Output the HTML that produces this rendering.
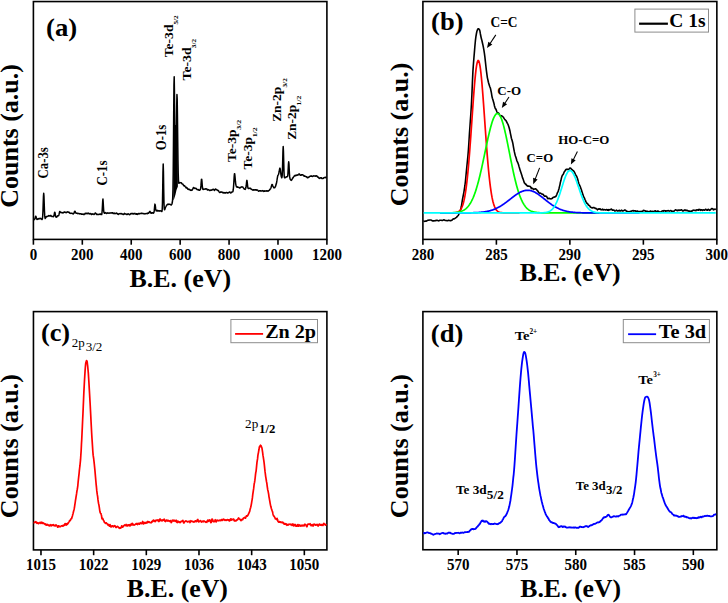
<!DOCTYPE html>
<html><head><meta charset="utf-8"><title>XPS spectra</title>
<style>html,body{margin:0;padding:0;background:#fff;overflow:hidden;}svg{display:block;font-family:"Liberation Serif",serif;}</style>
</head><body>
<svg width='728' height='603' viewBox='0 0 728 603'><rect x='0' y='0' width='728' height='603' fill='#fff'/>
<rect x='33.4' y='1.55' width='293.5' height='237.85' fill='none' stroke='#000' stroke-width='1.6'/>
<line x1='33.4' y1='239.4' x2='33.4' y2='244.7' stroke='#000' stroke-width='1.6'/>
<text transform='translate(29.65 259.74) scale(0.9552 1)' font-family='Liberation Serif' font-weight='bold' font-size='15.70' fill='#000'>0</text>
<line x1='82.3167' y1='239.4' x2='82.3167' y2='244.7' stroke='#000' stroke-width='1.6'/>
<text transform='translate(71.07 259.74) scale(0.9552 1)' font-family='Liberation Serif' font-weight='bold' font-size='15.70' fill='#000'>200</text>
<line x1='131.233' y1='239.4' x2='131.233' y2='244.7' stroke='#000' stroke-width='1.6'/>
<text transform='translate(119.98 259.74) scale(0.9552 1)' font-family='Liberation Serif' font-weight='bold' font-size='15.70' fill='#000'>400</text>
<line x1='180.15' y1='239.4' x2='180.15' y2='244.7' stroke='#000' stroke-width='1.6'/>
<text transform='translate(168.90 259.74) scale(0.9552 1)' font-family='Liberation Serif' font-weight='bold' font-size='15.70' fill='#000'>600</text>
<line x1='229.067' y1='239.4' x2='229.067' y2='244.7' stroke='#000' stroke-width='1.6'/>
<text transform='translate(217.82 259.74) scale(0.9552 1)' font-family='Liberation Serif' font-weight='bold' font-size='15.70' fill='#000'>800</text>
<line x1='277.983' y1='239.4' x2='277.983' y2='244.7' stroke='#000' stroke-width='1.6'/>
<text transform='translate(262.98 259.74) scale(0.9552 1)' font-family='Liberation Serif' font-weight='bold' font-size='15.70' fill='#000'>1000</text>
<line x1='326.9' y1='239.4' x2='326.9' y2='244.7' stroke='#000' stroke-width='1.6'/>
<text transform='translate(311.90 259.74) scale(0.9552 1)' font-family='Liberation Serif' font-weight='bold' font-size='15.70' fill='#000'>1200</text>
<polyline points='33.70,219.91 33.95,219.68 34.20,219.53 34.45,219.57 34.70,219.19 34.95,218.39 35.20,217.61 35.45,216.74 35.70,216.17 35.95,216.48 36.20,217.49 36.45,218.53 36.70,219.04 36.95,219.39 37.20,219.43 37.45,219.26 37.70,218.80 37.95,218.88 38.20,218.63 38.45,218.84 38.70,218.94 38.95,219.07 39.20,218.60 39.45,218.63 39.70,218.52 39.95,218.50 40.20,218.31 40.45,218.67 40.70,218.67 40.95,218.62 41.20,218.85 41.45,219.05 41.70,219.19 41.95,219.50 42.20,219.36 42.45,218.34 42.70,216.09 42.95,211.13 43.20,203.37 43.45,196.19 43.70,193.26 43.95,195.98 44.20,203.23 44.45,210.71 44.70,215.41 44.95,217.62 45.20,218.48 45.45,218.04 45.70,217.71 45.95,217.50 46.20,216.77 46.45,216.45 46.70,216.47 46.95,216.49 47.20,216.57 47.45,216.44 47.70,216.31 47.95,216.21 48.20,216.09 48.45,215.64 48.70,215.63 48.95,215.55 49.20,215.76 49.45,215.91 49.70,215.90 49.95,215.88 50.20,216.04 50.45,215.62 50.70,215.41 50.95,215.65 51.20,216.03 51.45,216.09 51.70,216.41 51.95,216.48 52.20,216.51 52.45,216.60 52.70,216.48 52.95,216.52 53.20,216.66 53.45,216.68 53.70,216.26 53.95,215.66 54.20,214.62 54.45,213.03 54.70,212.18 54.95,212.48 55.20,213.94 55.45,215.55 55.70,216.58 55.95,217.03 56.20,217.07 56.45,217.20 56.70,216.88 56.95,216.94 57.20,216.44 57.45,216.03 57.70,215.78 57.95,215.71 58.20,215.50 58.45,215.83 58.70,215.53 58.95,214.68 59.20,213.65 59.45,212.52 59.70,211.42 59.95,211.40 60.20,211.88 60.45,212.33 60.70,212.45 60.95,212.63 61.20,212.72 61.45,212.47 61.70,212.45 61.95,212.49 62.20,212.67 62.45,212.70 62.70,212.89 62.95,212.77 63.20,212.89 63.45,212.41 63.70,212.19 63.95,212.22 64.20,211.95 64.45,212.08 64.70,212.09 64.95,212.36 65.20,212.15 65.45,212.58 65.70,212.44 65.95,212.42 66.20,212.42 66.45,212.63 66.70,212.31 66.95,212.05 67.20,212.16 67.45,211.82 67.70,211.90 67.95,212.02 68.20,212.24 68.45,212.27 68.70,212.42 68.95,212.15 69.20,212.56 69.45,212.67 69.70,213.07 69.95,213.28 70.20,213.45 70.45,213.27 70.70,213.28 70.95,213.21 71.20,213.22 71.45,213.35 71.70,213.25 71.95,213.26 72.20,213.56 72.45,213.55 72.70,213.44 72.95,213.71 73.20,214.05 73.45,213.52 73.70,213.49 73.95,213.30 74.20,212.48 74.45,211.71 74.70,211.34 74.95,211.20 75.20,211.51 75.45,212.47 75.70,212.83 75.95,213.16 76.20,213.13 76.45,213.10 76.70,213.24 76.95,213.24 77.20,213.31 77.45,213.48 77.70,213.61 77.95,213.33 78.20,213.51 78.45,213.43 78.70,213.42 78.95,213.51 79.20,213.79 79.45,213.81 79.70,213.93 79.95,213.89 80.20,213.68 80.45,213.66 80.70,213.72 80.95,213.66 81.20,213.85 81.45,214.21 81.70,214.20 81.95,214.21 82.20,214.17 82.45,214.34 82.70,214.03 82.95,214.05 83.20,213.99 83.45,214.21 83.70,214.27 83.95,214.71 84.20,214.40 84.45,214.07 84.70,214.07 84.95,213.62 85.20,213.39 85.45,213.71 85.70,213.72 85.95,213.27 86.20,213.47 86.45,213.49 86.70,213.33 86.95,213.60 87.20,213.80 87.45,213.53 87.70,213.50 87.95,213.39 88.20,213.13 88.45,213.36 88.70,213.59 88.95,213.69 89.20,213.69 89.45,213.86 89.70,213.63 89.95,213.51 90.20,213.48 90.45,213.53 90.70,213.70 90.95,213.92 91.20,214.39 91.45,214.16 91.70,214.44 91.95,214.38 92.20,214.34 92.45,213.81 92.70,213.98 92.95,213.97 93.20,213.99 93.45,214.02 93.70,214.21 93.95,214.48 94.20,214.37 94.45,214.05 94.70,213.94 94.95,213.69 95.20,213.01 95.45,212.93 95.70,213.49 95.95,213.61 96.20,213.74 96.45,214.10 96.70,214.36 96.95,214.18 97.20,214.18 97.45,214.35 97.70,214.50 97.95,214.45 98.20,214.51 98.45,214.53 98.70,214.37 98.95,214.44 99.20,214.21 99.45,214.29 99.70,214.05 99.95,214.18 100.20,214.10 100.45,213.99 100.70,214.08 100.95,214.50 101.20,214.44 101.45,214.52 101.70,214.58 101.95,213.03 102.20,210.36 102.45,205.87 102.70,200.93 102.95,199.10 103.20,202.36 103.45,207.06 103.70,210.78 103.95,212.35 104.20,212.90 104.45,213.24 104.70,213.19 104.95,212.95 105.20,212.61 105.45,212.86 105.70,212.78 105.95,213.02 106.20,213.19 106.45,213.50 106.70,213.30 106.95,213.11 107.20,212.95 107.45,212.86 107.70,213.09 107.95,213.16 108.20,213.20 108.45,213.15 108.70,213.06 108.95,213.09 109.20,213.09 109.45,213.12 109.70,213.17 109.95,213.11 110.20,212.86 110.45,212.93 110.70,212.88 110.95,212.91 111.20,213.07 111.45,213.12 111.70,212.75 111.95,212.80 112.20,212.72 112.45,212.91 112.70,212.80 112.95,213.16 113.20,213.46 113.45,213.57 113.70,213.36 113.95,213.54 114.20,213.47 114.45,213.10 114.70,213.24 114.95,213.67 115.20,213.62 115.45,213.61 115.70,213.62 115.95,213.62 116.20,213.12 116.45,213.01 116.70,213.26 116.95,213.30 117.20,213.43 117.45,213.88 117.70,214.11 117.95,214.01 118.20,214.48 118.45,214.29 118.70,213.97 118.95,213.73 119.20,213.67 119.45,213.61 119.70,213.80 119.95,213.76 120.20,213.86 120.45,213.79 120.70,213.62 120.95,213.45 121.20,213.65 121.45,213.85 121.70,213.90 121.95,213.87 122.20,213.95 122.45,213.93 122.70,213.98 122.95,214.35 123.20,214.47 123.45,214.47 123.70,214.24 123.95,214.25 124.20,213.67 124.45,213.38 124.70,213.53 124.95,213.93 125.20,213.86 125.45,213.92 125.70,214.10 125.95,213.88 126.20,213.88 126.45,214.28 126.70,214.59 126.95,214.54 127.20,214.47 127.45,214.37 127.70,213.99 127.95,213.78 128.20,213.91 128.45,213.91 128.70,214.08 128.95,214.25 129.20,214.58 129.45,214.45 129.70,214.68 129.95,214.45 130.20,214.19 130.45,213.93 130.70,213.76 130.95,213.42 131.20,213.53 131.45,213.53 131.70,213.58 131.95,213.92 132.20,213.85 132.45,213.58 132.70,213.63 132.95,213.65 133.20,213.43 133.45,213.87 133.70,214.02 133.95,213.81 134.20,213.60 134.45,213.78 134.70,213.70 134.95,213.36 135.20,213.77 135.45,214.01 135.70,214.09 135.95,213.96 136.20,214.21 136.45,213.82 136.70,214.13 136.95,213.89 137.20,214.20 137.45,214.14 137.70,214.34 137.95,213.68 138.20,213.65 138.45,213.56 138.70,213.46 138.95,213.60 139.20,213.92 139.45,213.82 139.70,213.58 139.95,213.71 140.20,213.53 140.45,213.39 140.70,213.43 140.95,213.45 141.20,213.36 141.45,213.17 141.70,213.24 141.95,213.50 142.20,213.31 142.45,213.46 142.70,213.56 142.95,213.41 143.20,213.40 143.45,213.55 143.70,213.78 143.95,213.75 144.20,213.96 144.45,213.78 144.70,213.74 144.95,213.59 145.20,213.68 145.45,213.70 145.70,213.72 145.95,213.66 146.20,213.54 146.45,213.57 146.70,213.62 146.95,213.47 147.20,213.63 147.45,213.36 147.70,213.45 147.95,213.12 148.20,212.96 148.45,212.91 148.70,213.25 148.95,212.66 149.20,212.25 149.45,211.93 149.70,211.44 149.95,211.35 150.20,211.82 150.45,212.33 150.70,212.90 150.95,213.14 151.20,213.21 151.45,213.18 151.70,213.08 151.95,212.66 152.20,213.01 152.45,212.81 152.70,212.91 152.95,213.00 153.20,213.20 153.45,212.79 153.70,212.94 153.95,212.27 154.20,210.89 154.45,208.63 154.70,205.88 154.95,204.13 155.20,204.87 155.45,206.93 155.70,208.93 155.95,210.30 156.20,210.85 156.45,210.36 156.70,210.58 156.95,210.63 157.20,210.86 157.45,210.48 157.70,210.89 157.95,210.59 158.20,210.63 158.45,210.70 158.70,211.02 158.95,211.03 159.20,211.15 159.45,211.03 159.70,210.78 159.95,210.67 160.20,210.74 160.45,210.87 160.70,211.01 160.95,211.07 161.20,211.08 161.45,211.29 161.70,211.55 161.95,211.37 162.20,209.53 162.45,203.48 162.70,189.79 162.95,172.29 163.20,163.95 163.45,172.10 163.70,189.10 163.95,202.33 164.20,208.28 164.45,209.70 164.70,209.66 164.95,208.93 165.20,208.32 165.45,207.55 165.70,206.98 165.95,206.51 166.20,205.93 166.45,205.60 166.70,205.24 166.95,204.91 167.20,204.68 167.45,204.40 167.70,204.25 167.95,204.35 168.20,204.31 168.45,204.20 168.70,204.41 168.95,204.22 169.20,204.16 169.45,204.14 169.70,204.28 169.95,204.23 170.20,204.50 170.45,204.64 170.70,204.78 170.95,204.75 171.20,205.05 171.45,204.69 171.70,204.39 171.95,203.84 172.20,203.05 172.45,201.44 172.70,198.08 172.95,189.77 173.20,173.11 173.45,145.75 173.70,112.14 173.95,84.52 174.20,76.75 174.45,92.55 174.70,123.01 174.95,153.63 175.20,174.59 175.45,183.68 175.70,182.01 175.95,170.80 176.20,151.99 176.45,128.21 176.70,106.06 176.95,94.60 177.20,99.17 177.45,116.14 177.70,138.90 177.95,159.34 178.20,173.12 178.45,179.96 178.70,182.80 178.95,183.31 179.20,182.94 179.45,182.66 179.70,182.63 179.95,182.58 180.20,182.85 180.45,182.76 180.70,182.64 180.95,182.66 181.20,182.75 181.45,182.94 181.70,183.41 181.95,183.71 182.20,183.95 182.45,184.02 182.70,183.94 182.95,184.34 183.20,184.75 183.45,185.11 183.70,185.34 183.95,185.85 184.20,185.92 184.45,186.01 184.70,185.82 184.95,186.22 185.20,186.59 185.45,186.91 185.70,187.11 185.95,187.61 186.20,187.92 186.45,187.49 186.70,187.54 186.95,187.84 187.20,188.07 187.45,188.33 187.70,189.06 187.95,189.24 188.20,189.31 188.45,189.43 188.70,189.18 188.95,189.11 189.20,189.31 189.45,189.70 189.70,189.68 189.95,189.90 190.20,190.07 190.45,190.26 190.70,190.06 190.95,190.42 191.20,190.35 191.45,190.34 191.70,190.11 191.95,190.16 192.20,189.88 192.45,189.48 192.70,189.00 192.95,188.71 193.20,188.15 193.45,187.49 193.70,187.74 193.95,187.95 194.20,187.99 194.45,188.05 194.70,188.49 194.95,188.34 195.20,188.49 195.45,188.34 195.70,188.35 195.95,188.31 196.20,188.45 196.45,188.71 196.70,189.25 196.95,189.51 197.20,189.60 197.45,189.65 197.70,189.67 197.95,189.50 198.20,189.54 198.45,189.68 198.70,190.05 198.95,190.18 199.20,190.26 199.45,190.33 199.70,190.36 199.95,189.97 200.20,189.43 200.45,189.14 200.70,188.20 200.95,185.66 201.20,182.21 201.45,179.42 201.70,179.21 201.95,181.38 202.20,184.77 202.45,187.49 202.70,188.99 202.95,189.23 203.20,189.52 203.45,189.41 203.70,189.32 203.95,189.04 204.20,189.24 204.45,189.13 204.70,189.11 204.95,189.07 205.20,189.15 205.45,189.04 205.70,188.75 205.95,188.67 206.20,188.64 206.45,189.05 206.70,189.08 206.95,189.31 207.20,189.61 207.45,190.04 207.70,189.66 207.95,189.53 208.20,189.82 208.45,189.87 208.70,189.75 208.95,189.81 209.20,190.26 209.45,190.43 209.70,190.53 209.95,190.62 210.20,190.44 210.45,190.29 210.70,190.03 210.95,190.03 211.20,190.02 211.45,190.28 211.70,189.89 211.95,189.96 212.20,189.75 212.45,189.56 212.70,189.48 212.95,189.66 213.20,189.20 213.45,189.47 213.70,189.53 213.95,189.77 214.20,190.10 214.45,190.45 214.70,189.96 214.95,189.77 215.20,189.40 215.45,189.04 215.70,189.10 215.95,189.13 216.20,189.41 216.45,189.47 216.70,189.71 216.95,189.81 217.20,190.21 217.45,190.28 217.70,190.57 217.95,190.57 218.20,190.45 218.45,190.63 218.70,191.04 218.95,191.55 219.20,191.94 219.45,192.40 219.70,192.38 219.95,192.40 220.20,192.16 220.45,192.02 220.70,191.95 220.95,192.15 221.20,191.93 221.45,192.00 221.70,191.91 221.95,191.96 222.20,192.36 222.45,192.47 222.70,192.50 222.95,192.79 223.20,192.99 223.45,192.49 223.70,192.49 223.95,192.70 224.20,192.68 224.45,192.61 224.70,193.05 224.95,193.00 225.20,192.89 225.45,192.79 225.70,193.02 225.95,192.48 226.20,192.50 226.45,192.42 226.70,192.61 226.95,192.49 227.20,193.02 227.45,192.88 227.70,193.09 227.95,192.94 228.20,192.74 228.45,192.60 228.70,192.71 228.95,192.26 229.20,192.25 229.45,192.12 229.70,191.93 229.95,192.14 230.20,192.51 230.45,192.82 230.70,193.02 230.95,192.88 231.20,192.70 231.45,192.48 231.70,191.99 231.95,192.03 232.20,192.08 232.45,191.75 232.70,191.76 232.95,191.37 233.20,190.01 233.45,187.74 233.70,184.68 233.95,180.22 234.20,176.29 234.45,173.79 234.70,173.82 234.95,175.97 235.20,178.93 235.45,181.71 235.70,183.82 235.95,185.21 236.20,185.76 236.45,186.70 236.70,186.97 236.95,187.01 237.20,186.88 237.45,187.20 237.70,187.05 237.95,187.02 238.20,187.27 238.45,187.44 238.70,187.56 238.95,187.44 239.20,187.51 239.45,187.61 239.70,188.08 239.95,187.79 240.20,187.79 240.45,187.62 240.70,187.55 240.95,186.93 241.20,186.99 241.45,187.04 241.70,187.01 241.95,186.77 242.20,186.99 242.45,186.90 242.70,186.88 242.95,187.20 243.20,187.63 243.45,187.92 243.70,188.22 243.95,188.59 244.20,188.96 244.45,189.16 244.70,189.24 244.95,189.36 245.20,189.38 245.45,188.91 245.70,188.23 245.95,187.30 246.20,186.01 246.45,183.33 246.70,181.06 246.95,180.37 247.20,182.16 247.45,184.45 247.70,186.54 247.95,187.85 248.20,188.43 248.45,188.29 248.70,188.39 248.95,188.50 249.20,188.36 249.45,188.24 249.70,188.14 249.95,188.22 250.20,188.28 250.45,188.22 250.70,188.60 250.95,189.02 251.20,189.27 251.45,189.17 251.70,189.37 251.95,189.57 252.20,189.73 252.45,189.72 252.70,189.99 252.95,190.21 253.20,189.80 253.45,189.73 253.70,189.83 253.95,189.98 254.20,189.68 254.45,189.92 254.70,189.94 254.95,189.93 255.20,189.83 255.45,189.76 255.70,189.75 255.95,189.96 256.20,189.83 256.45,189.85 256.70,190.16 256.95,190.03 257.20,189.95 257.45,189.97 257.70,190.22 257.95,190.51 258.20,191.03 258.45,191.00 258.70,191.31 258.95,191.19 259.20,190.88 259.45,190.83 259.70,190.70 259.95,190.78 260.20,190.79 260.45,191.02 260.70,190.84 260.95,190.98 261.20,190.89 261.45,191.04 261.70,190.85 261.95,190.93 262.20,190.98 262.45,190.63 262.70,190.69 262.95,190.83 263.20,190.81 263.45,190.93 263.70,191.46 263.95,191.27 264.20,191.07 264.45,191.04 264.70,191.23 264.95,190.86 265.20,191.12 265.45,191.12 265.70,190.97 265.95,190.96 266.20,191.14 266.45,190.73 266.70,190.74 266.95,191.02 267.20,190.97 267.45,190.87 267.70,191.09 267.95,191.20 268.20,190.89 268.45,190.69 268.70,190.68 268.95,190.46 269.20,190.19 269.45,190.15 269.70,189.83 269.95,189.40 270.20,189.02 270.45,188.83 270.70,188.33 270.95,187.79 271.20,187.13 271.45,186.17 271.70,185.30 271.95,184.50 272.20,184.46 272.45,184.72 272.70,185.68 272.95,186.31 273.20,186.75 273.45,187.04 273.70,187.65 273.95,187.71 274.20,187.54 274.45,187.69 274.70,187.67 274.95,187.37 275.20,186.90 275.45,186.57 275.70,185.70 275.95,185.07 276.20,184.05 276.45,183.31 276.70,181.78 276.95,180.40 277.20,178.74 277.45,177.31 277.70,175.95 277.95,175.23 278.20,174.99 278.45,174.45 278.70,173.87 278.95,172.71 279.20,171.50 279.45,169.86 279.70,168.54 279.95,168.09 280.20,168.99 280.45,170.42 280.70,172.52 280.95,174.62 281.20,176.23 281.45,177.02 281.70,177.70 281.95,177.38 282.20,175.55 282.45,170.20 282.70,161.22 282.95,151.06 283.20,146.49 283.45,151.19 283.70,161.32 283.95,170.61 284.20,175.82 284.45,177.72 284.70,177.82 284.95,177.87 285.20,177.56 285.45,177.38 285.70,177.40 285.95,177.16 286.20,177.05 286.45,176.70 286.70,176.75 286.95,176.67 287.20,176.79 287.45,176.54 287.70,176.00 287.95,173.29 288.20,168.87 288.45,164.14 288.70,161.76 288.95,163.74 289.20,169.11 289.45,173.80 289.70,176.88 289.95,178.34 290.20,179.21 290.45,179.32 290.70,179.77 290.95,179.93 291.20,180.44 291.45,180.26 291.70,180.03 291.95,179.49 292.20,179.04 292.45,178.27 292.70,177.95 292.95,177.58 293.20,177.74 293.45,177.06 293.70,176.79 293.95,176.55 294.20,176.26 294.45,175.65 294.70,175.73 294.95,175.41 295.20,175.18 295.45,175.54 295.70,175.76 295.95,175.56 296.20,175.58 296.45,175.45 296.70,175.17 296.95,174.82 297.20,174.84 297.45,175.08 297.70,175.24 297.95,174.99 298.20,174.90 298.45,174.73 298.70,174.44 298.95,173.92 299.20,174.06 299.45,174.10 299.70,174.39 299.95,174.77 300.20,175.29 300.45,174.98 300.70,175.21 300.95,175.33 301.20,174.96 301.45,174.69 301.70,174.95 301.95,174.66 302.20,174.83 302.45,174.69 302.70,174.80 302.95,174.90 303.20,175.25 303.45,175.17 303.70,175.70 303.95,175.94 304.20,176.25 304.45,176.05 304.70,176.13 304.95,176.08 305.20,176.24 305.45,176.20 305.70,176.50 305.95,176.48 306.20,176.80 306.45,176.89 306.70,176.80 306.95,177.29 307.20,177.75 307.45,177.39 307.70,177.35 307.95,177.82 308.20,177.58 308.45,177.20 308.70,177.34 308.95,177.15 309.20,176.67 309.45,176.40 309.70,176.43 309.95,176.36 310.20,176.33 310.45,176.13 310.70,176.17 310.95,175.86 311.20,175.85 311.45,176.03 311.70,176.23 311.95,176.28 312.20,176.44 312.45,176.44 312.70,176.23 312.95,176.10 313.20,176.12 313.45,175.89 313.70,176.09 313.95,176.13 314.20,176.09 314.45,175.93 314.70,176.03 314.95,175.90 315.20,175.83 315.45,176.19 315.70,176.21 315.95,176.03 316.20,175.96 316.45,175.83 316.70,175.72 316.95,176.08 317.20,176.61 317.45,176.59 317.70,176.85 317.95,177.21 318.20,177.15 318.45,177.13 318.70,177.58 318.95,178.17 319.20,178.19 319.45,178.25 319.70,178.40 319.95,178.43 320.20,178.04 320.45,177.76 320.70,177.83 320.95,177.71 321.20,177.67 321.45,177.85 321.70,178.44 321.95,178.34 322.20,178.50 322.45,178.50 322.70,178.56 322.95,178.35 323.20,178.38 323.45,178.25 323.70,177.98 323.95,177.72 324.20,177.59 324.45,177.61 324.70,177.51 324.95,177.63 325.20,177.69 325.45,177.59 325.70,177.38 325.95,177.39 326.20,177.05 326.45,176.73' fill='none' stroke='#000' stroke-width='1.5' stroke-linejoin='round'/>
<polygon points='173.3,200.5 173.4,125 177.7,125 177.9,186.5 176.5,190 175.5,194.5 174.2,198.7' fill='#000'/>
<rect x='422.9' y='1.5' width='293.95' height='237.9' fill='none' stroke='#000' stroke-width='1.6'/>
<line x1='422.9' y1='239.4' x2='422.9' y2='244.7' stroke='#000' stroke-width='1.6'/>
<text transform='translate(411.65 259.74) scale(0.9552 1)' font-family='Liberation Serif' font-weight='bold' font-size='15.70' fill='#000'>280</text>
<line x1='496.387' y1='239.4' x2='496.387' y2='244.7' stroke='#000' stroke-width='1.6'/>
<text transform='translate(485.14 259.74) scale(0.9552 1)' font-family='Liberation Serif' font-weight='bold' font-size='15.70' fill='#000'>285</text>
<line x1='569.875' y1='239.4' x2='569.875' y2='244.7' stroke='#000' stroke-width='1.6'/>
<text transform='translate(558.62 259.74) scale(0.9552 1)' font-family='Liberation Serif' font-weight='bold' font-size='15.70' fill='#000'>290</text>
<line x1='643.362' y1='239.4' x2='643.362' y2='244.7' stroke='#000' stroke-width='1.6'/>
<text transform='translate(632.11 259.74) scale(0.9517 1)' font-family='Liberation Serif' font-weight='bold' font-size='15.76' fill='#000'>295</text>
<line x1='716.85' y1='239.4' x2='716.85' y2='244.7' stroke='#000' stroke-width='1.6'/>
<text transform='translate(705.60 259.74) scale(0.9552 1)' font-family='Liberation Serif' font-weight='bold' font-size='15.70' fill='#000'>300</text>
<polyline points='423.40,221.37 423.90,221.16 424.40,221.36 424.90,221.24 425.40,221.13 425.90,221.09 426.40,221.10 426.90,220.75 427.40,220.60 427.90,220.29 428.40,220.23 428.90,220.04 429.40,220.03 429.90,220.08 430.40,219.94 430.90,220.05 431.40,220.23 431.90,220.64 432.40,220.90 432.90,220.91 433.40,220.88 433.90,220.87 434.40,220.70 434.90,220.74 435.40,220.55 435.90,220.66 436.40,220.37 436.90,220.30 437.40,220.31 437.90,220.64 438.40,220.87 438.90,220.82 439.40,220.61 439.90,220.29 440.40,220.27 440.90,220.19 441.40,220.33 441.90,220.49 442.40,220.52 442.90,220.27 443.40,219.95 443.90,219.81 444.40,219.91 444.90,220.27 445.40,220.56 445.90,220.56 446.40,220.50 446.90,220.65 447.40,220.80 447.90,220.59 448.40,220.33 448.90,220.35 449.40,220.46 449.90,220.59 450.40,220.63 450.90,220.60 451.40,220.47 451.90,220.21 452.40,219.62 452.90,219.19 453.40,218.91 453.90,218.84 454.40,218.75 454.90,218.40 455.40,218.02 455.90,217.71 456.40,217.36 456.90,216.96 457.40,216.29 457.90,215.74 458.40,215.16 458.90,214.04 459.40,213.01 459.90,211.91 460.40,210.58 460.90,208.56 461.40,206.29 461.90,203.18 462.40,199.86 462.90,197.24 463.40,194.69 463.90,192.07 464.40,188.96 464.90,185.72 465.40,181.47 465.90,176.38 466.40,170.96 466.90,166.03 467.40,161.18 467.90,156.19 468.40,150.13 468.90,142.60 469.40,134.28 469.90,126.93 470.40,119.75 470.90,112.95 471.40,104.73 471.90,94.67 472.40,82.37 472.90,71.62 473.40,64.24 473.90,58.01 474.40,52.08 474.90,46.03 475.40,40.70 475.90,36.68 476.40,33.76 476.90,31.28 477.40,29.93 477.90,29.00 478.40,28.69 478.90,28.93 479.40,29.63 479.90,31.04 480.40,33.98 480.90,36.51 481.40,38.85 481.90,40.54 482.40,42.77 482.90,44.87 483.40,47.36 483.90,50.10 484.40,53.34 484.90,57.17 485.40,61.63 485.90,66.25 486.40,70.70 486.90,74.30 487.40,77.85 487.90,79.93 488.40,82.26 488.90,83.94 489.40,85.50 489.90,87.04 490.40,88.14 490.90,90.50 491.40,92.84 491.90,96.06 492.40,98.24 492.90,99.82 493.40,101.42 493.90,103.19 494.40,105.69 494.90,107.34 495.40,108.59 495.90,109.10 496.40,110.43 496.90,111.72 497.40,112.86 497.90,113.15 498.40,112.92 498.90,113.53 499.40,114.54 499.90,115.38 500.40,115.79 500.90,115.67 501.40,115.69 501.90,116.15 502.40,116.21 502.90,116.85 503.40,117.13 503.90,118.15 504.40,118.90 504.90,119.61 505.40,120.01 505.90,120.47 506.40,121.30 506.90,122.28 507.40,123.31 507.90,124.19 508.40,125.55 508.90,126.93 509.40,128.79 509.90,130.68 510.40,133.28 510.90,135.63 511.40,138.26 511.90,139.75 512.40,141.53 512.90,143.64 513.40,146.57 513.90,149.33 514.40,151.91 514.90,154.09 515.40,155.99 515.90,157.21 516.40,158.98 516.90,160.71 517.40,161.98 517.90,162.94 518.40,164.28 518.90,166.13 519.40,167.76 519.90,169.44 520.40,171.12 520.90,172.55 521.40,173.95 521.90,175.47 522.40,177.37 522.90,178.59 523.40,179.92 523.90,181.43 524.40,183.08 524.90,183.29 525.40,184.24 525.90,184.11 526.40,185.20 526.90,185.26 527.40,186.06 527.90,186.21 528.40,185.99 528.90,186.18 529.40,186.25 529.90,186.19 530.40,186.89 530.90,187.42 531.40,188.59 531.90,188.00 532.40,188.40 532.90,188.59 533.40,189.39 533.90,189.35 534.40,189.05 534.90,188.98 535.40,188.83 535.90,189.05 536.40,189.45 536.90,190.05 537.40,190.73 537.90,191.04 538.40,192.02 538.90,192.68 539.40,193.03 539.90,193.21 540.40,193.10 540.90,193.39 541.40,193.68 541.90,193.93 542.40,194.30 542.90,194.16 543.40,194.80 543.90,195.55 544.40,195.99 544.90,196.31 545.40,196.04 545.90,196.22 546.40,196.19 546.90,197.00 547.40,198.06 547.90,198.71 548.40,198.50 548.90,198.35 549.40,198.35 549.90,198.80 550.40,198.76 550.90,198.88 551.40,198.78 551.90,198.49 552.40,198.21 552.90,197.56 553.40,197.44 553.90,197.05 554.40,197.18 554.90,196.80 555.40,196.78 555.90,196.37 556.40,195.45 556.90,194.25 557.40,192.81 557.90,191.86 558.40,190.61 558.90,189.04 559.40,186.88 559.90,184.87 560.40,182.25 560.90,180.56 561.40,178.19 561.90,176.34 562.40,175.36 562.90,174.74 563.40,174.11 563.90,172.68 564.40,171.52 564.90,171.13 565.40,170.22 565.90,169.62 566.40,169.27 566.90,169.29 567.40,169.45 567.90,169.20 568.40,169.52 568.90,168.98 569.40,168.94 569.90,167.98 570.40,167.96 570.90,168.43 571.40,168.97 571.90,169.73 572.40,169.82 572.90,170.30 573.40,170.70 573.90,171.25 574.40,172.08 574.90,173.14 575.40,174.30 575.90,175.26 576.40,175.94 576.90,176.96 577.40,178.29 577.90,180.07 578.40,182.02 578.90,183.71 579.40,184.96 579.90,185.85 580.40,187.05 580.90,188.46 581.40,189.83 581.90,191.38 582.40,192.89 582.90,194.65 583.40,195.97 583.90,197.25 584.40,197.91 584.90,199.31 585.40,200.35 585.90,201.83 586.40,202.42 586.90,203.34 587.40,203.56 587.90,204.14 588.40,204.96 588.90,205.26 589.40,205.83 589.90,206.05 590.40,207.02 590.90,207.33 591.40,207.65 591.90,207.75 592.40,207.96 592.90,207.55 593.40,207.69 593.90,207.53 594.40,207.84 594.90,208.17 595.40,208.56 595.90,208.29 596.40,208.87 596.90,209.14 597.40,209.80 597.90,209.21 598.40,208.92 598.90,208.93 599.40,209.21 599.90,208.82 600.40,208.94 600.90,209.70 601.40,209.71 601.90,209.84 602.40,209.19 602.90,209.72 603.40,209.88 603.90,209.50 604.40,209.63 604.90,209.70 605.40,210.03 605.90,209.91 606.40,209.58 606.90,209.55 607.40,210.15 607.90,209.90 608.40,210.31 608.90,209.56 609.40,210.04 609.90,209.80 610.40,209.46 610.90,209.30 611.40,209.06 611.90,209.69 612.40,210.15 612.90,210.17 613.40,210.02 613.90,210.02 614.40,210.39 614.90,211.14 615.40,210.85 615.90,210.60 616.40,210.17 616.90,210.45 617.40,210.98 617.90,211.02 618.40,210.72 618.90,210.45 619.40,210.31 619.90,210.86 620.40,210.92 620.90,210.80 621.40,210.15 621.90,210.38 622.40,210.91 622.90,211.04 623.40,210.68 623.90,210.54 624.40,210.14 624.90,209.99 625.40,210.24 625.90,210.61 626.40,211.12 626.90,211.27 627.40,211.62 627.90,211.55 628.40,211.84 628.90,211.88 629.40,211.80 629.90,211.44 630.40,211.40 630.90,211.29 631.40,211.13 631.90,211.00 632.40,210.72 632.90,210.67 633.40,210.66 633.90,211.11 634.40,210.72 634.90,210.72 635.40,210.85 635.90,211.36 636.40,211.16 636.90,211.36 637.40,211.00 637.90,211.26 638.40,211.46 638.90,211.61 639.40,211.53 639.90,211.46 640.40,211.55 640.90,211.61 641.40,211.37 641.90,211.77 642.40,211.23 642.90,210.94 643.40,210.36 643.90,210.67 644.40,210.66 644.90,210.70 645.40,211.09 645.90,211.07 646.40,211.34 646.90,211.36 647.40,211.40 647.90,211.40 648.40,211.74 648.90,212.03 649.40,211.81 649.90,211.33 650.40,210.98 650.90,211.22 651.40,211.48 651.90,211.50 652.40,211.36 652.90,211.42 653.40,211.50 653.90,211.61 654.40,211.01 654.90,210.91 655.40,210.71 655.90,211.58 656.40,211.69 656.90,211.68 657.40,210.93 657.90,210.99 658.40,211.30 658.90,211.50 659.40,212.10 659.90,211.97 660.40,212.31 660.90,211.81 661.40,211.91 661.90,211.12 662.40,211.00 662.90,210.80 663.40,211.12 663.90,210.56 664.40,210.81 664.90,210.76 665.40,211.21 665.90,210.89 666.40,210.92 666.90,211.14 667.40,210.85 667.90,210.65 668.40,210.60 668.90,210.98 669.40,211.12 669.90,210.87 670.40,210.59 670.90,210.66 671.40,211.12 671.90,211.05 672.40,211.46 672.90,211.36 673.40,211.51 673.90,211.29 674.40,210.65 674.90,210.29 675.40,209.71 675.90,209.98 676.40,210.35 676.90,210.55 677.40,210.67 677.90,210.16 678.40,210.42 678.90,210.00 679.40,210.38 679.90,210.12 680.40,210.18 680.90,209.97 681.40,209.80 681.90,210.10 682.40,210.62 682.90,211.04 683.40,210.76 683.90,210.37 684.40,209.95 684.90,210.33 685.40,209.98 685.90,210.55 686.40,210.29 686.90,210.62 687.40,210.36 687.90,210.76 688.40,211.05 688.90,211.24 689.40,210.98 689.90,211.21 690.40,211.25 690.90,211.17 691.40,211.21 691.90,210.90 692.40,210.94 692.90,210.28 693.40,210.14 693.90,210.31 694.40,210.19 694.90,210.43 695.40,210.30 695.90,210.71 696.40,209.92 696.90,209.77 697.40,209.86 697.90,210.23 698.40,210.26 698.90,209.42 699.40,209.79 699.90,209.56 700.40,210.42 700.90,209.71 701.40,210.05 701.90,209.72 702.40,210.41 702.90,209.94 703.40,209.80 703.90,210.16 704.40,210.15 704.90,210.09 705.40,209.36 705.90,209.27 706.40,209.75 706.90,210.25 707.40,210.29 707.90,209.45 708.40,209.26 708.90,209.70 709.40,210.35 709.90,210.29 710.40,209.71 710.90,209.39 711.40,208.64 711.90,208.44 712.40,208.70 712.90,208.84 713.40,209.79 713.90,209.49 714.40,209.45 714.90,208.99 715.40,209.40 715.90,209.65' fill='none' stroke='#000' stroke-width='1.6' stroke-linejoin='round'/>
<polyline points='440.00,212.90 440.50,212.90 441.00,212.90 441.50,212.90 442.00,212.90 442.50,212.90 443.00,212.90 443.50,212.90 444.00,212.90 444.50,212.90 445.00,212.90 445.50,212.90 446.00,212.90 446.50,212.90 447.00,212.90 447.50,212.90 448.00,212.90 448.50,212.90 449.00,212.90 449.50,212.89 450.00,212.89 450.50,212.89 451.00,212.88 451.50,212.88 452.00,212.87 452.50,212.86 453.00,212.84 453.50,212.82 454.00,212.79 454.50,212.75 455.00,212.70 455.50,212.64 456.00,212.56 456.50,212.45 457.00,212.32 457.50,212.14 458.00,211.93 458.50,211.65 459.00,211.32 459.50,210.90 460.00,210.38 460.50,209.76 461.00,209.00 461.50,208.10 462.00,207.01 462.50,205.73 463.00,204.22 463.50,202.46 464.00,200.42 464.50,198.07 465.00,195.38 465.50,192.34 466.00,188.92 466.50,185.09 467.00,180.86 467.50,176.21 468.00,171.14 468.50,165.67 469.00,159.80 469.50,153.57 470.00,147.02 470.50,140.20 471.00,133.16 471.50,125.97 472.00,118.72 472.50,111.50 473.00,104.39 473.50,97.49 474.00,90.91 474.50,84.75 475.00,79.10 475.50,74.06 476.00,69.72 476.50,66.14 477.00,63.41 477.50,61.55 478.00,60.62 478.50,60.61 479.00,61.53 479.50,63.33 480.00,66.00 480.50,69.48 481.00,73.72 481.50,78.64 482.00,84.17 482.50,90.20 483.00,96.65 483.50,103.42 484.00,110.41 484.50,117.53 485.00,124.69 485.50,131.80 486.00,138.78 486.50,145.56 487.00,152.09 487.50,158.32 488.00,164.20 488.50,169.71 489.00,174.82 489.50,179.53 490.00,183.83 490.50,187.73 491.00,191.24 491.50,194.36 492.00,197.14 492.50,199.57 493.00,201.70 493.50,203.55 494.00,205.13 494.50,206.49 495.00,207.64 495.50,208.61 496.00,209.42 496.50,210.10 497.00,210.66 497.50,211.11 498.00,211.49 498.50,211.79 499.00,212.03 499.50,212.22 500.00,212.38 500.50,212.50 501.00,212.59 501.50,212.67 502.00,212.72 502.50,212.77 503.00,212.80 503.50,212.83 504.00,212.85 504.50,212.86 505.00,212.87 505.50,212.88 506.00,212.89 506.50,212.89 507.00,212.89 507.50,212.89 508.00,212.90 508.50,212.90 509.00,212.90 509.50,212.90 510.00,212.90 510.50,212.90 511.00,212.90 511.50,212.90 512.00,212.90 512.50,212.90 513.00,212.90 513.50,212.90 514.00,212.90 514.50,212.90 515.00,212.90 515.50,212.90 516.00,212.90 516.50,212.90 517.00,212.90 517.50,212.90 518.00,212.90 518.50,212.90 519.00,212.90 519.50,212.90' fill='none' stroke='#ff0000' stroke-width='1.7'/>
<polyline points='440.00,212.90 440.50,212.90 441.00,212.90 441.50,212.90 442.00,212.89 442.50,212.89 443.00,212.89 443.50,212.89 444.00,212.89 444.50,212.89 445.00,212.88 445.50,212.88 446.00,212.88 446.50,212.87 447.00,212.87 447.50,212.86 448.00,212.86 448.50,212.85 449.00,212.84 449.50,212.83 450.00,212.82 450.50,212.81 451.00,212.79 451.50,212.78 452.00,212.76 452.50,212.74 453.00,212.71 453.50,212.68 454.00,212.65 454.50,212.61 455.00,212.57 455.50,212.53 456.00,212.47 456.50,212.41 457.00,212.35 457.50,212.27 458.00,212.19 458.50,212.09 459.00,211.99 459.50,211.87 460.00,211.74 460.50,211.59 461.00,211.43 461.50,211.25 462.00,211.06 462.50,210.84 463.00,210.60 463.50,210.34 464.00,210.05 464.50,209.73 465.00,209.39 465.50,209.01 466.00,208.60 466.50,208.15 467.00,207.66 467.50,207.14 468.00,206.57 468.50,205.96 469.00,205.30 469.50,204.58 470.00,203.82 470.50,203.00 471.00,202.13 471.50,201.20 472.00,200.20 472.50,199.15 473.00,198.03 473.50,196.84 474.00,195.59 474.50,194.26 475.00,192.87 475.50,191.41 476.00,189.88 476.50,188.28 477.00,186.61 477.50,184.87 478.00,183.06 478.50,181.19 479.00,179.25 479.50,177.25 480.00,175.19 480.50,173.07 481.00,170.90 481.50,168.69 482.00,166.43 482.50,164.13 483.00,161.80 483.50,159.44 484.00,157.06 484.50,154.67 485.00,152.28 485.50,149.88 486.00,147.49 486.50,145.12 487.00,142.78 487.50,140.46 488.00,138.19 488.50,135.98 489.00,133.82 489.50,131.72 490.00,129.71 490.50,127.78 491.00,125.94 491.50,124.20 492.00,122.57 492.50,121.06 493.00,119.67 493.50,118.41 494.00,117.28 494.50,116.29 495.00,115.45 495.50,114.75 496.00,114.21 496.50,113.81 497.00,113.58 497.50,113.50 498.00,113.59 498.50,113.85 499.00,114.29 499.50,114.90 500.00,115.67 500.50,116.61 501.00,117.71 501.50,118.97 502.00,120.37 502.50,121.91 503.00,123.58 503.50,125.38 504.00,127.30 504.50,129.31 505.00,131.43 505.50,133.63 506.00,135.91 506.50,138.26 507.00,140.66 507.50,143.11 508.00,145.59 508.50,148.10 509.00,150.63 509.50,153.17 510.00,155.70 510.50,158.22 511.00,160.72 511.50,163.20 512.00,165.64 512.50,168.04 513.00,170.40 513.50,172.70 514.00,174.95 514.50,177.13 515.00,179.25 515.50,181.29 516.00,183.27 516.50,185.17 517.00,187.00 517.50,188.74 518.00,190.41 518.50,192.00 519.00,193.52 519.50,194.95 520.00,196.31 520.50,197.59 521.00,198.80 521.50,199.94 522.00,201.00 522.50,202.00 523.00,202.93 523.50,203.80 524.00,204.60 524.50,205.35 525.00,206.05 525.50,206.69 526.00,207.28 526.50,207.82 527.00,208.32 527.50,208.78 528.00,209.20 528.50,209.58 529.00,209.93 529.50,210.24 530.00,210.53 530.50,210.79 531.00,211.02 531.50,211.23 532.00,211.42 532.50,211.59 533.00,211.75 533.50,211.88 534.00,212.01 534.50,212.12 535.00,212.21 535.50,212.30 536.00,212.37 536.50,212.44 537.00,212.50 537.50,212.55 538.00,212.60 538.50,212.64 539.00,212.67 539.50,212.71 540.00,212.73 540.50,212.76 541.00,212.78 541.50,212.79 542.00,212.81 542.50,212.82 543.00,212.83 543.50,212.84 544.00,212.85 544.50,212.86 545.00,212.87 545.50,212.87 546.00,212.88 546.50,212.88 547.00,212.88 547.50,212.89 548.00,212.89 548.50,212.89 549.00,212.89 549.50,212.89 550.00,212.89 550.50,212.90 551.00,212.90 551.50,212.90 552.00,212.90 552.50,212.90 553.00,212.90 553.50,212.90 554.00,212.90 554.50,212.90 555.00,212.90 555.50,212.90 556.00,212.90 556.50,212.90 557.00,212.90 557.50,212.90 558.00,212.90 558.50,212.90 559.00,212.90 559.50,212.90 560.00,212.90 560.50,212.90 561.00,212.90 561.50,212.90 562.00,212.90 562.50,212.90 563.00,212.90 563.50,212.90 564.00,212.90 564.50,212.90 565.00,212.90 565.50,212.90 566.00,212.90 566.50,212.90 567.00,212.90 567.50,212.90 568.00,212.90 568.50,212.90 569.00,212.90 569.50,212.90 570.00,212.90 570.50,212.90 571.00,212.90 571.50,212.90 572.00,212.90 572.50,212.90 573.00,212.90 573.50,212.90 574.00,212.90 574.50,212.90 575.00,212.90 575.50,212.90 576.00,212.90 576.50,212.90 577.00,212.90 577.50,212.90 578.00,212.90 578.50,212.90 579.00,212.90 579.50,212.90 580.00,212.90 580.50,212.90 581.00,212.90 581.50,212.90 582.00,212.90 582.50,212.90 583.00,212.90 583.50,212.90 584.00,212.90 584.50,212.90 585.00,212.90 585.50,212.90 586.00,212.90 586.50,212.90 587.00,212.90 587.50,212.90 588.00,212.90 588.50,212.90 589.00,212.90 589.50,212.90 590.00,212.90 590.50,212.90 591.00,212.90 591.50,212.90 592.00,212.90 592.50,212.90 593.00,212.90 593.50,212.90 594.00,212.90 594.50,212.90 595.00,212.90 595.50,212.90 596.00,212.90 596.50,212.90 597.00,212.90 597.50,212.90 598.00,212.90 598.50,212.90 599.00,212.90 599.50,212.90' fill='none' stroke='#00ff00' stroke-width='1.7'/>
<polyline points='440.00,212.90 440.50,212.90 441.00,212.90 441.50,212.90 442.00,212.90 442.50,212.90 443.00,212.90 443.50,212.90 444.00,212.90 444.50,212.90 445.00,212.90 445.50,212.90 446.00,212.90 446.50,212.90 447.00,212.90 447.50,212.90 448.00,212.90 448.50,212.90 449.00,212.90 449.50,212.90 450.00,212.90 450.50,212.90 451.00,212.90 451.50,212.90 452.00,212.90 452.50,212.90 453.00,212.90 453.50,212.90 454.00,212.90 454.50,212.90 455.00,212.90 455.50,212.90 456.00,212.90 456.50,212.89 457.00,212.89 457.50,212.89 458.00,212.89 458.50,212.89 459.00,212.89 459.50,212.89 460.00,212.89 460.50,212.89 461.00,212.88 461.50,212.88 462.00,212.88 462.50,212.88 463.00,212.88 463.50,212.87 464.00,212.87 464.50,212.87 465.00,212.86 465.50,212.86 466.00,212.86 466.50,212.85 467.00,212.85 467.50,212.84 468.00,212.84 468.50,212.83 469.00,212.82 469.50,212.81 470.00,212.81 470.50,212.80 471.00,212.79 471.50,212.77 472.00,212.76 472.50,212.75 473.00,212.73 473.50,212.72 474.00,212.70 474.50,212.68 475.00,212.66 475.50,212.64 476.00,212.62 476.50,212.60 477.00,212.57 477.50,212.54 478.00,212.51 478.50,212.48 479.00,212.44 479.50,212.40 480.00,212.36 480.50,212.32 481.00,212.27 481.50,212.22 482.00,212.17 482.50,212.11 483.00,212.05 483.50,211.99 484.00,211.92 484.50,211.84 485.00,211.77 485.50,211.69 486.00,211.60 486.50,211.51 487.00,211.41 487.50,211.31 488.00,211.20 488.50,211.08 489.00,210.96 489.50,210.84 490.00,210.71 490.50,210.57 491.00,210.42 491.50,210.27 492.00,210.11 492.50,209.94 493.00,209.76 493.50,209.58 494.00,209.39 494.50,209.19 495.00,208.98 495.50,208.77 496.00,208.55 496.50,208.32 497.00,208.08 497.50,207.83 498.00,207.57 498.50,207.31 499.00,207.04 499.50,206.76 500.00,206.47 500.50,206.17 501.00,205.86 501.50,205.55 502.00,205.23 502.50,204.90 503.00,204.57 503.50,204.23 504.00,203.88 504.50,203.53 505.00,203.17 505.50,202.80 506.00,202.43 506.50,202.06 507.00,201.68 507.50,201.29 508.00,200.91 508.50,200.52 509.00,200.13 509.50,199.73 510.00,199.34 510.50,198.95 511.00,198.55 511.50,198.16 512.00,197.77 512.50,197.38 513.00,197.00 513.50,196.62 514.00,196.24 514.50,195.87 515.00,195.51 515.50,195.15 516.00,194.80 516.50,194.46 517.00,194.12 517.50,193.80 518.00,193.49 518.50,193.19 519.00,192.90 519.50,192.62 520.00,192.35 520.50,192.10 521.00,191.87 521.50,191.65 522.00,191.44 522.50,191.25 523.00,191.08 523.50,190.92 524.00,190.78 524.50,190.66 525.00,190.55 525.50,190.46 526.00,190.40 526.50,190.35 527.00,190.31 527.50,190.30 528.00,190.31 528.50,190.33 529.00,190.38 529.50,190.44 530.00,190.52 530.50,190.63 531.00,190.75 531.50,190.89 532.00,191.05 532.50,191.22 533.00,191.41 533.50,191.62 534.00,191.85 534.50,192.09 535.00,192.35 535.50,192.62 536.00,192.90 536.50,193.20 537.00,193.51 537.50,193.83 538.00,194.16 538.50,194.51 539.00,194.86 539.50,195.22 540.00,195.59 540.50,195.96 541.00,196.34 541.50,196.73 542.00,197.12 542.50,197.52 543.00,197.92 543.50,198.32 544.00,198.72 544.50,199.12 545.00,199.53 545.50,199.93 546.00,200.33 546.50,200.73 547.00,201.13 547.50,201.52 548.00,201.91 548.50,202.30 549.00,202.68 549.50,203.06 550.00,203.43 550.50,203.79 551.00,204.15 551.50,204.50 552.00,204.85 552.50,205.18 553.00,205.51 553.50,205.83 554.00,206.15 554.50,206.45 555.00,206.75 555.50,207.03 556.00,207.31 556.50,207.58 557.00,207.85 557.50,208.10 558.00,208.34 558.50,208.58 559.00,208.81 559.50,209.02 560.00,209.23 560.50,209.44 561.00,209.63 561.50,209.82 562.00,209.99 562.50,210.16 563.00,210.32 563.50,210.48 564.00,210.63 564.50,210.77 565.00,210.90 565.50,211.02 566.00,211.14 566.50,211.26 567.00,211.37 567.50,211.47 568.00,211.56 568.50,211.65 569.00,211.74 569.50,211.82 570.00,211.90 570.50,211.97 571.00,212.04 571.50,212.10 572.00,212.16 572.50,212.21 573.00,212.26 573.50,212.31 574.00,212.36 574.50,212.40 575.00,212.44 575.50,212.48 576.00,212.51 576.50,212.54 577.00,212.57 577.50,212.60 578.00,212.62 578.50,212.65 579.00,212.67 579.50,212.69 580.00,212.71 580.50,212.72 581.00,212.74 581.50,212.75 582.00,212.77 582.50,212.78 583.00,212.79 583.50,212.80 584.00,212.81 584.50,212.82 585.00,212.83 585.50,212.83 586.00,212.84 586.50,212.84 587.00,212.85 587.50,212.85 588.00,212.86 588.50,212.86 589.00,212.87 589.50,212.87 590.00,212.87 590.50,212.88 591.00,212.88 591.50,212.88 592.00,212.88 592.50,212.88 593.00,212.89 593.50,212.89 594.00,212.89 594.50,212.89 595.00,212.89 595.50,212.89 596.00,212.89 596.50,212.89 597.00,212.89 597.50,212.90 598.00,212.90 598.50,212.90 599.00,212.90 599.50,212.90 600.00,212.90 600.50,212.90 601.00,212.90 601.50,212.90 602.00,212.90 602.50,212.90 603.00,212.90 603.50,212.90 604.00,212.90 604.50,212.90 605.00,212.90 605.50,212.90 606.00,212.90 606.50,212.90 607.00,212.90 607.50,212.90 608.00,212.90 608.50,212.90 609.00,212.90 609.50,212.90 610.00,212.90 610.50,212.90 611.00,212.90 611.50,212.90 612.00,212.90 612.50,212.90 613.00,212.90 613.50,212.90 614.00,212.90 614.50,212.90 615.00,212.90 615.50,212.90 616.00,212.90 616.50,212.90 617.00,212.90 617.50,212.90 618.00,212.90 618.50,212.90 619.00,212.90 619.50,212.90 620.00,212.90 620.50,212.90 621.00,212.90 621.50,212.90 622.00,212.90 622.50,212.90 623.00,212.90 623.50,212.90 624.00,212.90 624.50,212.90 625.00,212.90 625.50,212.90 626.00,212.90 626.50,212.90 627.00,212.90 627.50,212.90 628.00,212.90 628.50,212.90 629.00,212.90 629.50,212.90 630.00,212.90 630.50,212.90 631.00,212.90 631.50,212.90 632.00,212.90 632.50,212.90 633.00,212.90 633.50,212.90 634.00,212.90 634.50,212.90 635.00,212.90 635.50,212.90 636.00,212.90 636.50,212.90 637.00,212.90 637.50,212.90 638.00,212.90 638.50,212.90 639.00,212.90 639.50,212.90' fill='none' stroke='#0000ff' stroke-width='1.7'/>
<polyline points='423.70,212.90 424.20,212.90 424.70,212.90 425.20,212.90 425.70,212.90 426.20,212.90 426.70,212.90 427.20,212.90 427.70,212.90 428.20,212.90 428.70,212.90 429.20,212.90 429.70,212.90 430.20,212.90 430.70,212.90 431.20,212.90 431.70,212.90 432.20,212.90 432.70,212.90 433.20,212.90 433.70,212.90 434.20,212.90 434.70,212.90 435.20,212.90 435.70,212.90 436.20,212.90 436.70,212.90 437.20,212.90 437.70,212.90 438.20,212.90 438.70,212.90 439.20,212.90 439.70,212.90 440.20,212.90 440.70,212.90 441.20,212.90 441.70,212.90 442.20,212.90 442.70,212.90 443.20,212.90 443.70,212.90 444.20,212.90 444.70,212.90 445.20,212.90 445.70,212.90 446.20,212.90 446.70,212.90 447.20,212.90 447.70,212.90 448.20,212.90 448.70,212.90 449.20,212.90 449.70,212.90 450.20,212.90 450.70,212.90 451.20,212.90 451.70,212.90 452.20,212.90 452.70,212.90 453.20,212.90 453.70,212.90 454.20,212.90 454.70,212.90 455.20,212.90 455.70,212.90 456.20,212.90 456.70,212.90 457.20,212.90 457.70,212.90 458.20,212.90 458.70,212.90 459.20,212.90 459.70,212.90 460.20,212.90 460.70,212.90 461.20,212.90 461.70,212.90 462.20,212.90 462.70,212.90 463.20,212.90 463.70,212.90 464.20,212.90 464.70,212.90 465.20,212.90 465.70,212.90 466.20,212.90 466.70,212.90 467.20,212.90 467.70,212.90 468.20,212.90 468.70,212.90 469.20,212.90 469.70,212.90 470.20,212.90 470.70,212.90 471.20,212.90 471.70,212.90 472.20,212.90 472.70,212.90 473.20,212.90 473.70,212.90 474.20,212.90 474.70,212.90 475.20,212.90 475.70,212.90 476.20,212.90 476.70,212.90 477.20,212.90 477.70,212.90 478.20,212.90 478.70,212.90 479.20,212.90 479.70,212.90 480.20,212.90 480.70,212.90 481.20,212.90 481.70,212.90 482.20,212.90 482.70,212.90 483.20,212.90 483.70,212.90 484.20,212.90 484.70,212.90 485.20,212.90 485.70,212.90 486.20,212.90 486.70,212.90 487.20,212.90 487.70,212.90 488.20,212.90 488.70,212.90 489.20,212.90 489.70,212.90 490.20,212.90 490.70,212.90 491.20,212.90 491.70,212.90 492.20,212.90 492.70,212.90 493.20,212.90 493.70,212.90 494.20,212.90 494.70,212.90 495.20,212.90 495.70,212.90 496.20,212.90 496.70,212.90 497.20,212.90 497.70,212.90 498.20,212.90 498.70,212.90 499.20,212.90 499.70,212.90 500.20,212.90 500.70,212.90 501.20,212.90 501.70,212.90 502.20,212.90 502.70,212.90 503.20,212.90 503.70,212.90 504.20,212.90 504.70,212.90 505.20,212.90 505.70,212.90 506.20,212.90 506.70,212.90 507.20,212.90 507.70,212.90 508.20,212.90 508.70,212.90 509.20,212.90 509.70,212.90 510.20,212.90 510.70,212.90 511.20,212.90 511.70,212.90 512.20,212.90 512.70,212.90 513.20,212.90 513.70,212.90 514.20,212.90 514.70,212.90 515.20,212.90 515.70,212.90 516.20,212.90 516.70,212.90 517.20,212.90 517.70,212.90 518.20,212.90 518.70,212.90 519.20,212.90 519.70,212.90 520.20,212.90 520.70,212.90 521.20,212.90 521.70,212.90 522.20,212.90 522.70,212.90 523.20,212.90 523.70,212.90 524.20,212.90 524.70,212.90 525.20,212.90 525.70,212.90 526.20,212.90 526.70,212.90 527.20,212.90 527.70,212.90 528.20,212.90 528.70,212.90 529.20,212.90 529.70,212.90 530.20,212.90 530.70,212.90 531.20,212.90 531.70,212.90 532.20,212.90 532.70,212.90 533.20,212.90 533.70,212.90 534.20,212.90 534.70,212.90 535.20,212.90 535.70,212.90 536.20,212.89 536.70,212.89 537.20,212.89 537.70,212.89 538.20,212.88 538.70,212.88 539.20,212.87 539.70,212.87 540.20,212.86 540.70,212.85 541.20,212.83 541.70,212.82 542.20,212.80 542.70,212.77 543.20,212.74 543.70,212.71 544.20,212.66 544.70,212.61 545.20,212.55 545.70,212.47 546.20,212.38 546.70,212.28 547.20,212.16 547.70,212.01 548.20,211.85 548.70,211.65 549.20,211.43 549.70,211.17 550.20,210.88 550.70,210.55 551.20,210.17 551.70,209.75 552.20,209.27 552.70,208.74 553.20,208.14 553.70,207.49 554.20,206.77 554.70,205.98 555.20,205.12 555.70,204.18 556.20,203.17 556.70,202.09 557.20,200.94 557.70,199.71 558.20,198.41 558.70,197.05 559.20,195.63 559.70,194.15 560.20,192.63 560.70,191.07 561.20,189.48 561.70,187.88 562.20,186.27 562.70,184.67 563.20,183.09 563.70,181.54 564.20,180.04 564.70,178.60 565.20,177.25 565.70,175.98 566.20,174.82 566.70,173.77 567.20,172.86 567.70,172.08 568.20,171.45 568.70,170.98 569.20,170.66 569.70,170.51 570.20,170.53 570.70,170.68 571.20,170.97 571.70,171.41 572.20,171.97 572.70,172.66 573.20,173.47 573.70,174.39 574.20,175.41 574.70,176.53 575.20,177.74 575.70,179.01 576.20,180.35 576.70,181.74 577.20,183.17 577.70,184.63 578.20,186.11 578.70,187.59 579.20,189.07 579.70,190.54 580.20,191.99 580.70,193.41 581.20,194.79 581.70,196.13 582.20,197.43 582.70,198.67 583.20,199.85 583.70,200.98 584.20,202.04 584.70,203.05 585.20,203.99 585.70,204.86 586.20,205.68 586.70,206.43 587.20,207.13 587.70,207.76 588.20,208.35 588.70,208.88 589.20,209.36 589.70,209.79 590.20,210.18 590.70,210.53 591.20,210.84 591.70,211.11 592.20,211.36 592.70,211.57 593.20,211.76 593.70,211.93 594.20,212.07 594.70,212.20 595.20,212.30 595.70,212.40 596.20,212.48 596.70,212.55 597.20,212.60 597.70,212.65 598.20,212.70 598.70,212.73 599.20,212.76 599.70,212.79 600.20,212.81 600.70,212.82 601.20,212.84 601.70,212.85 602.20,212.86 602.70,212.87 603.20,212.87 603.70,212.88 604.20,212.88 604.70,212.89 605.20,212.89 605.70,212.89 606.20,212.89 606.70,212.89 607.20,212.90 607.70,212.90 608.20,212.90 608.70,212.90 609.20,212.90 609.70,212.90 610.20,212.90 610.70,212.90 611.20,212.90 611.70,212.90 612.20,212.90 612.70,212.90 613.20,212.90 613.70,212.90 614.20,212.90 614.70,212.90 615.20,212.90 615.70,212.90 616.20,212.90 616.70,212.90 617.20,212.90 617.70,212.90 618.20,212.90 618.70,212.90 619.20,212.90 619.70,212.90 620.20,212.90 620.70,212.90 621.20,212.90 621.70,212.90 622.20,212.90 622.70,212.90 623.20,212.90 623.70,212.90 624.20,212.90 624.70,212.90 625.20,212.90 625.70,212.90 626.20,212.90 626.70,212.90 627.20,212.90 627.70,212.90 628.20,212.90 628.70,212.90 629.20,212.90 629.70,212.90 630.20,212.90 630.70,212.90 631.20,212.90 631.70,212.90 632.20,212.90 632.70,212.90 633.20,212.90 633.70,212.90 634.20,212.90 634.70,212.90 635.20,212.90 635.70,212.90 636.20,212.90 636.70,212.90 637.20,212.90 637.70,212.90 638.20,212.90 638.70,212.90 639.20,212.90 639.70,212.90 640.20,212.90 640.70,212.90 641.20,212.90 641.70,212.90 642.20,212.90 642.70,212.90 643.20,212.90 643.70,212.90 644.20,212.90 644.70,212.90 645.20,212.90 645.70,212.90 646.20,212.90 646.70,212.90 647.20,212.90 647.70,212.90 648.20,212.90 648.70,212.90 649.20,212.90 649.70,212.90 650.20,212.90 650.70,212.90 651.20,212.90 651.70,212.90 652.20,212.90 652.70,212.90 653.20,212.90 653.70,212.90 654.20,212.90 654.70,212.90 655.20,212.90 655.70,212.90 656.20,212.90 656.70,212.90 657.20,212.90 657.70,212.90 658.20,212.90 658.70,212.90 659.20,212.90 659.70,212.90 660.20,212.90 660.70,212.90 661.20,212.90 661.70,212.90 662.20,212.90 662.70,212.90 663.20,212.90 663.70,212.90 664.20,212.90 664.70,212.90 665.20,212.90 665.70,212.90 666.20,212.90 666.70,212.90 667.20,212.90 667.70,212.90 668.20,212.90 668.70,212.90 669.20,212.90 669.70,212.90 670.20,212.90 670.70,212.90 671.20,212.90 671.70,212.90 672.20,212.90 672.70,212.90 673.20,212.90 673.70,212.90 674.20,212.90 674.70,212.90 675.20,212.90 675.70,212.90 676.20,212.90 676.70,212.90 677.20,212.90 677.70,212.90 678.20,212.90 678.70,212.90 679.20,212.90 679.70,212.90 680.20,212.90 680.70,212.90 681.20,212.90 681.70,212.90 682.20,212.90 682.70,212.90 683.20,212.90 683.70,212.90 684.20,212.90 684.70,212.90 685.20,212.90 685.70,212.90 686.20,212.90 686.70,212.90 687.20,212.90 687.70,212.90 688.20,212.90 688.70,212.90 689.20,212.90 689.70,212.90 690.20,212.90 690.70,212.90 691.20,212.90 691.70,212.90 692.20,212.90 692.70,212.90 693.20,212.90 693.70,212.90 694.20,212.90 694.70,212.90 695.20,212.90 695.70,212.90 696.20,212.90 696.70,212.90 697.20,212.90 697.70,212.90 698.20,212.90 698.70,212.90 699.20,212.90 699.70,212.90 700.20,212.90 700.70,212.90 701.20,212.90 701.70,212.90 702.20,212.90 702.70,212.90 703.20,212.90 703.70,212.90 704.20,212.90 704.70,212.90 705.20,212.90 705.70,212.90 706.20,212.90 706.70,212.90 707.20,212.90 707.70,212.90 708.20,212.90 708.70,212.90 709.20,212.90 709.70,212.90 710.20,212.90 710.70,212.90 711.20,212.90 711.70,212.90 712.20,212.90 712.70,212.90 713.20,212.90 713.70,212.90 714.20,212.90 714.70,212.90 715.20,212.90 715.70,212.90' fill='none' stroke='#00ffff' stroke-width='1.7'/>
<rect x='33.45' y='311.6' width='293.45' height='238.3' fill='none' stroke='#000' stroke-width='1.6'/>
<line x1='40.9744' y1='549.9' x2='40.9744' y2='555.2' stroke='#000' stroke-width='1.6'/>
<text transform='translate(25.97 570.14) scale(0.9552 1)' font-family='Liberation Serif' font-weight='bold' font-size='15.70' fill='#000'>1015</text>
<line x1='93.6449' y1='549.9' x2='93.6449' y2='555.2' stroke='#000' stroke-width='1.6'/>
<text transform='translate(78.64 570.14) scale(0.9552 1)' font-family='Liberation Serif' font-weight='bold' font-size='15.70' fill='#000'>1022</text>
<line x1='146.315' y1='549.9' x2='146.315' y2='555.2' stroke='#000' stroke-width='1.6'/>
<text transform='translate(131.32 570.14) scale(0.9552 1)' font-family='Liberation Serif' font-weight='bold' font-size='15.70' fill='#000'>1029</text>
<line x1='198.986' y1='549.9' x2='198.986' y2='555.2' stroke='#000' stroke-width='1.6'/>
<text transform='translate(183.99 570.14) scale(0.9552 1)' font-family='Liberation Serif' font-weight='bold' font-size='15.70' fill='#000'>1036</text>
<line x1='251.656' y1='549.9' x2='251.656' y2='555.2' stroke='#000' stroke-width='1.6'/>
<text transform='translate(236.66 570.14) scale(0.9552 1)' font-family='Liberation Serif' font-weight='bold' font-size='15.70' fill='#000'>1043</text>
<line x1='304.327' y1='549.9' x2='304.327' y2='555.2' stroke='#000' stroke-width='1.6'/>
<text transform='translate(289.33 570.14) scale(0.9552 1)' font-family='Liberation Serif' font-weight='bold' font-size='15.70' fill='#000'>1050</text>
<polyline points='33.75,522.32 34.05,522.62 34.35,522.26 34.65,522.18 34.95,522.45 35.25,522.38 35.55,521.94 35.85,521.67 36.15,522.20 36.45,522.42 36.75,523.13 37.05,523.32 37.35,522.79 37.65,522.59 37.95,522.70 38.25,523.45 38.55,523.72 38.85,523.28 39.15,522.84 39.45,522.87 39.75,522.74 40.05,522.38 40.35,522.48 40.65,522.65 40.95,523.36 41.25,522.58 41.55,522.43 41.85,522.19 42.15,522.61 42.45,523.26 42.75,522.92 43.05,523.36 43.35,522.88 43.65,523.36 43.95,523.39 44.25,523.83 44.55,523.72 44.85,524.18 45.15,523.97 45.45,524.64 45.75,524.12 46.05,524.96 46.35,524.77 46.65,525.10 46.95,524.41 47.25,525.01 47.55,524.45 47.85,524.63 48.15,524.95 48.45,525.38 48.75,525.59 49.05,525.76 49.35,525.83 49.65,525.56 49.95,525.09 50.25,524.61 50.55,525.34 50.85,525.56 51.15,525.83 51.45,525.29 51.75,524.99 52.05,525.26 52.35,525.21 52.65,525.41 52.95,524.76 53.25,525.01 53.55,524.73 53.85,525.40 54.15,525.70 54.45,525.46 54.75,525.80 55.05,525.66 55.35,525.89 55.65,525.23 55.95,524.89 56.25,525.24 56.55,525.38 56.85,525.80 57.15,526.03 57.45,526.71 57.75,527.21 58.05,526.72 58.35,525.97 58.65,525.76 58.95,525.94 59.25,526.68 59.55,526.30 59.85,526.57 60.15,526.44 60.45,526.64 60.75,526.35 61.05,526.15 61.35,525.93 61.65,525.77 61.95,525.91 62.25,525.59 62.55,526.04 62.85,525.58 63.15,526.02 63.45,525.30 63.75,525.16 64.05,525.43 64.35,525.25 64.65,524.79 64.95,523.72 65.25,523.60 65.55,524.67 65.85,524.86 66.15,525.16 66.45,523.92 66.75,523.82 67.05,523.58 67.35,524.39 67.65,523.85 67.95,523.65 68.25,522.94 68.55,522.63 68.85,522.16 69.15,521.66 69.45,520.83 69.75,520.62 70.05,520.42 70.35,520.54 70.65,519.29 70.95,518.99 71.25,518.56 71.55,518.66 71.85,517.88 72.15,516.82 72.45,515.91 72.75,514.47 73.05,513.69 73.35,512.27 73.65,511.05 73.95,510.01 74.25,508.51 74.55,506.78 74.85,504.55 75.15,502.81 75.45,500.72 75.75,498.79 76.05,496.81 76.35,495.08 76.65,493.23 76.95,490.90 77.25,489.49 77.55,487.53 77.85,485.28 78.15,481.81 78.45,479.21 78.75,476.40 79.05,473.79 79.35,470.60 79.65,467.99 79.95,465.73 80.25,462.55 80.55,459.70 80.85,454.94 81.15,450.63 81.45,444.30 81.75,439.29 82.05,432.70 82.35,426.62 82.65,419.79 82.95,413.75 83.25,406.79 83.55,399.83 83.85,392.55 84.15,386.88 84.45,381.23 84.75,376.32 85.05,371.36 85.35,367.27 85.65,363.95 85.95,362.08 86.25,361.40 86.55,360.65 86.85,360.94 87.15,361.52 87.45,364.35 87.75,366.72 88.05,370.09 88.35,373.38 88.65,378.26 88.95,383.05 89.25,388.38 89.55,393.55 89.85,398.89 90.15,403.98 90.45,409.70 90.75,415.53 91.05,421.62 91.35,427.27 91.65,433.00 91.95,437.94 92.25,442.40 92.55,447.03 92.85,451.78 93.15,455.15 93.45,457.18 93.75,459.22 94.05,461.96 94.35,464.54 94.65,467.70 94.95,470.66 95.25,474.07 95.55,477.62 95.85,480.98 96.15,484.42 96.45,487.20 96.75,490.41 97.05,492.78 97.35,494.89 97.65,496.54 97.95,499.39 98.25,501.62 98.55,503.44 98.85,504.64 99.15,506.35 99.45,508.47 99.75,510.55 100.05,512.09 100.35,512.91 100.65,513.34 100.95,513.47 101.25,514.75 101.55,515.80 101.85,518.10 102.15,518.91 102.45,518.94 102.75,518.52 103.05,519.22 103.35,520.14 103.65,520.64 103.95,520.96 104.25,521.93 104.55,522.50 104.85,522.57 105.15,522.96 105.45,523.05 105.75,523.39 106.05,522.83 106.35,522.93 106.65,523.51 106.95,523.60 107.25,524.00 107.55,524.18 107.85,524.75 108.15,525.00 108.45,524.49 108.75,525.20 109.05,525.62 109.35,526.20 109.65,525.24 109.95,524.59 110.25,524.94 110.55,526.24 110.85,526.79 111.15,526.97 111.45,526.24 111.75,526.15 112.05,525.80 112.35,526.23 112.65,525.83 112.95,526.22 113.25,526.60 113.55,526.79 113.85,526.06 114.15,525.78 114.45,526.01 114.75,525.71 115.05,525.92 115.35,526.25 115.65,526.96 115.95,527.46 116.25,527.49 116.55,527.44 116.85,526.79 117.15,526.42 117.45,526.45 117.75,526.59 118.05,526.79 118.35,526.93 118.65,527.39 118.95,527.88 119.25,528.31 119.55,527.90 119.85,527.75 120.15,527.95 120.45,527.72 120.75,528.15 121.05,527.26 121.35,527.12 121.65,525.94 121.95,526.08 122.25,526.27 122.55,527.18 122.85,526.99 123.15,526.72 123.45,526.01 123.75,525.89 124.05,525.39 124.35,525.44 124.65,525.01 124.95,525.36 125.25,525.26 125.55,525.54 125.85,525.06 126.15,524.48 126.45,525.28 126.75,525.08 127.05,526.02 127.35,525.50 127.65,525.77 127.95,524.76 128.25,524.85 128.55,525.52 128.85,525.55 129.15,525.03 129.45,524.75 129.75,525.15 130.05,525.91 130.35,525.31 130.65,525.34 130.95,524.17 131.25,525.06 131.55,524.58 131.85,524.22 132.15,523.41 132.45,523.58 132.75,524.98 133.05,524.87 133.35,524.88 133.65,524.38 133.95,525.02 134.25,524.96 134.55,525.08 134.85,524.67 135.15,524.55 135.45,524.18 135.75,523.97 136.05,523.71 136.35,524.06 136.65,523.53 136.95,524.21 137.25,524.07 137.55,524.48 137.85,523.76 138.15,523.30 138.45,523.45 138.75,523.93 139.05,524.06 139.35,524.19 139.65,523.70 139.95,523.63 140.25,522.69 140.55,523.10 140.85,523.03 141.15,523.38 141.45,523.47 141.75,523.61 142.05,522.72 142.35,522.29 142.65,521.49 142.95,522.79 143.25,523.60 143.55,523.87 143.85,523.48 144.15,522.48 144.45,522.74 144.75,522.89 145.05,523.37 145.35,522.86 145.65,523.13 145.95,522.31 146.25,522.70 146.55,522.51 146.85,523.03 147.15,522.56 147.45,521.86 147.75,521.40 148.05,521.66 148.35,522.25 148.65,521.92 148.95,522.05 149.25,521.82 149.55,522.41 149.85,522.37 150.15,522.64 150.45,522.57 150.75,522.66 151.05,522.29 151.35,522.70 151.65,521.70 151.95,521.91 152.25,521.16 152.55,521.69 152.85,520.87 153.15,520.27 153.45,520.19 153.75,520.25 154.05,521.03 154.35,520.61 154.65,521.30 154.95,521.18 155.25,521.57 155.55,520.78 155.85,520.37 156.15,520.03 156.45,520.04 156.75,520.28 157.05,520.58 157.35,520.24 157.65,520.11 157.95,519.83 158.25,520.34 158.55,521.05 158.85,521.55 159.15,521.36 159.45,520.13 159.75,519.40 160.05,518.91 160.35,519.71 160.65,519.92 160.95,520.52 161.25,520.04 161.55,520.34 161.85,520.80 162.15,520.78 162.45,520.64 162.75,519.88 163.05,520.43 163.35,520.20 163.65,520.09 163.95,519.32 164.25,519.20 164.55,519.77 164.85,521.15 165.15,521.31 165.45,521.49 165.75,520.70 166.05,520.68 166.35,520.27 166.65,520.12 166.95,520.28 167.25,521.07 167.55,520.50 167.85,520.89 168.15,520.36 168.45,520.84 168.75,520.78 169.05,520.98 169.35,521.26 169.65,521.37 169.95,521.32 170.25,520.58 170.55,520.97 170.85,521.54 171.15,522.60 171.45,522.45 171.75,521.19 172.05,520.82 172.35,520.21 172.65,520.51 172.95,520.90 173.25,520.92 173.55,521.10 173.85,520.12 174.15,520.36 174.45,520.46 174.75,520.89 175.05,520.72 175.35,521.36 175.65,521.21 175.95,521.11 176.25,520.20 176.55,521.05 176.85,522.17 177.15,522.58 177.45,521.94 177.75,521.08 178.05,521.35 178.35,521.30 178.65,521.98 178.95,522.12 179.25,522.47 179.55,522.21 179.85,521.99 180.15,522.52 180.45,521.95 180.75,522.11 181.05,521.45 181.35,521.56 181.65,521.20 181.95,521.27 182.25,521.20 182.55,520.61 182.85,520.37 183.15,521.22 183.45,522.46 183.75,523.01 184.05,522.92 184.35,522.06 184.65,521.81 184.95,521.49 185.25,521.29 185.55,520.98 185.85,520.91 186.15,521.17 186.45,521.15 186.75,521.25 187.05,521.26 187.35,521.98 187.65,521.85 187.95,521.83 188.25,521.52 188.55,521.46 188.85,521.32 189.15,521.14 189.45,521.45 189.75,521.90 190.05,522.49 190.35,521.63 190.65,521.27 190.95,520.67 191.25,521.32 191.55,521.29 191.85,521.25 192.15,521.46 192.45,521.67 192.75,521.44 193.05,521.62 193.35,521.90 193.65,522.10 193.95,521.92 194.25,521.31 194.55,521.90 194.85,521.53 195.15,521.50 195.45,520.97 195.75,520.77 196.05,521.11 196.35,521.29 196.65,521.56 196.95,521.30 197.25,519.96 197.55,519.97 197.85,519.50 198.15,520.85 198.45,521.20 198.75,521.95 199.05,521.72 199.35,521.26 199.65,521.11 199.95,521.04 200.25,520.90 200.55,520.61 200.85,521.21 201.15,521.40 201.45,522.04 201.75,521.54 202.05,521.56 202.35,521.16 202.65,521.40 202.95,521.65 203.25,521.78 203.55,521.38 203.85,520.81 204.15,521.30 204.45,521.42 204.75,521.58 205.05,521.50 205.35,521.97 205.65,522.24 205.95,521.59 206.25,522.01 206.55,521.95 206.85,522.27 207.15,521.38 207.45,520.74 207.75,520.08 208.05,520.26 208.35,520.88 208.65,521.25 208.95,520.69 209.25,520.04 209.55,519.99 209.85,519.88 210.15,520.68 210.45,521.18 210.75,522.65 211.05,522.63 211.35,522.01 211.65,520.71 211.95,519.20 212.25,519.18 212.55,519.41 212.85,520.92 213.15,521.33 213.45,521.57 213.75,521.29 214.05,521.29 214.35,521.57 214.65,521.10 214.95,520.69 215.25,519.69 215.55,520.60 215.85,521.19 216.15,521.91 216.45,520.91 216.75,520.49 217.05,520.13 217.35,520.55 217.65,520.40 217.95,520.64 218.25,520.45 218.55,520.79 218.85,520.68 219.15,520.69 219.45,520.33 219.75,520.08 220.05,520.44 220.35,520.37 220.65,520.61 220.95,520.17 221.25,519.73 221.55,519.93 221.85,519.68 222.15,520.42 222.45,520.24 222.75,520.02 223.05,519.44 223.35,519.11 223.65,519.39 223.95,519.30 224.25,519.72 224.55,519.91 224.85,520.45 225.15,520.03 225.45,520.21 225.75,519.80 226.05,519.93 226.35,520.02 226.65,520.28 226.95,520.12 227.25,519.53 227.55,519.56 227.85,519.82 228.15,520.09 228.45,519.76 228.75,519.81 229.05,520.75 229.35,520.89 229.65,520.81 229.95,520.06 230.25,519.26 230.55,519.17 230.85,518.78 231.15,520.13 231.45,519.98 231.75,519.94 232.05,519.36 232.35,519.49 232.65,519.55 232.95,519.60 233.25,519.06 233.55,519.16 233.85,519.44 234.15,520.58 234.45,520.90 234.75,520.72 235.05,520.44 235.35,520.54 235.65,521.02 235.95,520.98 236.25,520.58 236.55,520.09 236.85,519.77 237.15,519.91 237.45,519.88 237.75,519.54 238.05,518.69 238.35,518.38 238.65,517.93 238.95,518.67 239.25,518.89 239.55,518.99 239.85,519.18 240.15,519.45 240.45,520.03 240.75,520.34 241.05,520.64 241.35,520.15 241.65,519.88 241.95,519.32 242.25,519.82 242.55,519.71 242.85,519.23 243.15,518.79 243.45,518.08 243.75,517.95 244.05,518.01 244.35,517.66 244.65,517.41 244.95,517.48 245.25,517.77 245.55,518.06 245.85,516.97 246.15,516.46 246.45,515.85 246.75,516.19 247.05,515.90 247.35,516.01 247.65,515.53 247.95,515.24 248.25,514.36 248.55,514.01 248.85,513.15 249.15,512.78 249.45,511.83 249.75,511.07 250.05,509.61 250.35,508.43 250.65,507.43 250.95,506.33 251.25,504.77 251.55,503.10 251.85,501.10 252.15,499.59 252.45,497.38 252.75,494.63 253.05,492.60 253.35,490.52 253.65,488.69 253.95,486.00 254.25,483.49 254.55,482.44 254.85,480.47 255.15,478.00 255.45,475.20 255.75,472.60 256.05,471.51 256.35,468.63 256.65,465.66 256.95,462.69 257.25,460.61 257.55,458.94 257.85,455.90 258.15,453.96 258.45,452.58 258.75,450.72 259.05,449.24 259.35,446.98 259.65,447.27 259.95,446.16 260.25,445.80 260.55,445.26 260.85,445.53 261.15,445.96 261.45,446.71 261.75,447.53 262.05,448.57 262.35,450.72 262.65,452.69 262.95,455.19 263.25,456.84 263.55,458.77 263.85,460.96 264.15,463.16 264.45,465.96 264.75,468.84 265.05,471.71 265.35,473.96 265.65,476.27 265.95,478.19 266.25,480.00 266.55,481.88 266.85,483.26 267.15,485.87 267.45,487.78 267.75,489.92 268.05,490.89 268.35,492.58 268.65,494.11 268.95,496.58 269.25,498.21 269.55,499.85 269.85,501.51 270.15,503.33 270.45,504.85 270.75,506.31 271.05,507.25 271.35,508.55 271.65,509.32 271.95,510.20 272.25,511.09 272.55,511.84 272.85,513.39 273.15,514.76 273.45,515.38 273.75,516.02 274.05,516.05 274.35,516.81 274.65,517.05 274.95,517.64 275.25,518.79 275.55,518.98 275.85,518.85 276.15,518.83 276.45,518.95 276.75,519.58 277.05,518.40 277.35,519.18 277.65,519.84 277.95,521.40 278.25,521.63 278.55,522.15 278.85,522.06 279.15,522.23 279.45,521.55 279.75,521.62 280.05,521.82 280.35,522.38 280.65,522.20 280.95,522.11 281.25,522.06 281.55,522.39 281.85,522.55 282.15,522.61 282.45,522.49 282.75,522.08 283.05,522.96 283.35,523.10 283.65,523.68 283.95,523.39 284.25,524.24 284.55,523.83 284.85,523.61 285.15,523.52 285.45,524.31 285.75,524.27 286.05,523.89 286.35,524.02 286.65,524.68 286.95,525.26 287.25,524.74 287.55,524.54 287.85,524.47 288.15,525.00 288.45,524.44 288.75,524.47 289.05,524.14 289.35,524.21 289.65,524.27 289.95,524.35 290.25,524.61 290.55,524.69 290.85,524.21 291.15,524.35 291.45,524.38 291.75,524.98 292.05,525.39 292.35,524.84 292.65,524.23 292.95,523.96 293.25,524.54 293.55,525.82 293.85,525.96 294.15,525.51 294.45,525.07 294.75,524.57 295.05,524.37 295.35,525.01 295.65,525.43 295.95,526.20 296.25,525.50 296.55,526.03 296.85,525.89 297.15,526.13 297.45,525.15 297.75,524.58 298.05,524.66 298.35,525.53 298.65,526.20 298.95,525.79 299.25,525.34 299.55,524.93 299.85,525.39 300.15,525.57 300.45,525.98 300.75,525.58 301.05,525.72 301.35,525.72 301.65,525.85 301.95,525.08 302.25,525.08 302.55,525.58 302.85,525.81 303.15,525.59 303.45,525.13 303.75,525.65 304.05,525.91 304.35,525.03 304.65,524.87 304.95,524.24 305.25,524.51 305.55,524.53 305.85,524.83 306.15,525.40 306.45,526.30 306.75,526.67 307.05,526.63 307.35,525.23 307.65,524.73 307.95,524.11 308.25,524.23 308.55,524.07 308.85,524.21 309.15,524.32 309.45,524.35 309.75,524.08 310.05,523.68 310.35,524.18 310.65,524.70 310.95,525.52 311.25,525.73 311.55,525.58 311.85,525.46 312.15,524.59 312.45,525.50 312.75,525.68 313.05,526.10 313.35,524.90 313.65,524.62 313.95,524.04 314.25,524.17 314.55,524.30 314.85,524.97 315.15,525.06 315.45,525.13 315.75,524.74 316.05,525.01 316.35,524.50 316.65,524.56 316.95,524.62 317.25,524.45 317.55,525.40 317.85,525.03 318.15,526.06 318.45,525.02 318.75,525.43 319.05,524.32 319.35,524.23 319.65,524.07 319.95,524.72 320.25,524.74 320.55,525.09 320.85,524.57 321.15,525.06 321.45,524.77 321.75,525.25 322.05,524.58 322.35,525.01 322.65,524.99 322.95,525.46 323.25,524.54 323.55,523.75 323.85,523.42 324.15,523.96 324.45,524.43 324.75,524.51 325.05,524.13 325.35,524.79 325.65,525.06 325.95,525.04 326.25,524.96 326.55,525.23' fill='none' stroke='#ff0000' stroke-width='1.7' stroke-linejoin='round'/>
<rect x='422.9' y='311.6' width='293.95' height='238.15' fill='none' stroke='#000' stroke-width='1.6'/>
<line x1='458.174' y1='549.75' x2='458.174' y2='555.05' stroke='#000' stroke-width='1.6'/>
<text transform='translate(446.92 570.14) scale(0.9552 1)' font-family='Liberation Serif' font-weight='bold' font-size='15.70' fill='#000'>570</text>
<line x1='516.964' y1='549.75' x2='516.964' y2='555.05' stroke='#000' stroke-width='1.6'/>
<text transform='translate(505.71 570.14) scale(0.9410 1)' font-family='Liberation Serif' font-weight='bold' font-size='15.94' fill='#000'>575</text>
<line x1='575.754' y1='549.75' x2='575.754' y2='555.05' stroke='#000' stroke-width='1.6'/>
<text transform='translate(564.50 570.14) scale(0.9552 1)' font-family='Liberation Serif' font-weight='bold' font-size='15.70' fill='#000'>580</text>
<line x1='634.544' y1='549.75' x2='634.544' y2='555.05' stroke='#000' stroke-width='1.6'/>
<text transform='translate(623.29 570.14) scale(0.9552 1)' font-family='Liberation Serif' font-weight='bold' font-size='15.70' fill='#000'>585</text>
<line x1='693.334' y1='549.75' x2='693.334' y2='555.05' stroke='#000' stroke-width='1.6'/>
<text transform='translate(682.08 570.14) scale(0.9552 1)' font-family='Liberation Serif' font-weight='bold' font-size='15.70' fill='#000'>590</text>
<polyline points='423.30,532.66 423.70,532.77 424.10,532.94 424.50,533.27 424.90,533.32 425.30,533.05 425.70,533.02 426.10,532.81 426.50,532.62 426.90,532.55 427.30,532.32 427.70,532.31 428.10,532.68 428.50,532.81 428.90,532.87 429.30,533.08 429.70,533.10 430.10,533.15 430.50,533.35 430.90,533.70 431.30,533.57 431.70,533.89 432.10,534.04 432.50,534.34 432.90,534.37 433.30,534.71 433.70,534.40 434.10,534.47 434.50,534.22 434.90,534.07 435.30,533.81 435.70,533.91 436.10,533.77 436.50,533.61 436.90,533.46 437.30,533.62 437.70,533.62 438.10,533.79 438.50,533.61 438.90,533.56 439.30,533.75 439.70,534.22 440.10,533.86 440.50,533.76 440.90,533.51 441.30,533.41 441.70,533.09 442.10,533.19 442.50,532.80 442.90,532.88 443.30,532.99 443.70,533.21 444.10,533.66 444.50,533.66 444.90,533.47 445.30,533.74 445.70,533.77 446.10,533.51 446.50,533.51 446.90,533.63 447.30,533.59 447.70,533.18 448.10,532.77 448.50,532.73 448.90,532.86 449.30,532.85 449.70,532.57 450.10,532.67 450.50,533.16 450.90,533.27 451.30,533.46 451.70,533.39 452.10,533.77 452.50,533.96 452.90,533.96 453.30,533.78 453.70,533.88 454.10,533.61 454.50,533.60 454.90,533.01 455.30,533.01 455.70,533.05 456.10,533.04 456.50,532.83 456.90,532.84 457.30,532.89 457.70,532.90 458.10,532.87 458.50,532.75 458.90,532.99 459.30,533.19 459.70,533.32 460.10,532.91 460.50,532.66 460.90,532.54 461.30,532.83 461.70,532.62 462.10,532.65 462.50,532.52 462.90,532.74 463.30,532.78 463.70,532.76 464.10,532.51 464.50,532.36 464.90,532.10 465.30,532.19 465.70,532.23 466.10,532.11 466.50,532.14 466.90,532.02 467.30,531.94 467.70,532.12 468.10,532.06 468.50,531.84 468.90,531.92 469.30,531.28 469.70,530.96 470.10,530.40 470.50,530.19 470.90,529.52 471.30,529.48 471.70,529.09 472.10,528.94 472.50,528.85 472.90,529.12 473.30,528.84 473.70,529.30 474.10,529.05 474.50,529.15 474.90,529.00 475.30,528.93 475.70,528.67 476.10,528.22 476.50,527.58 476.90,527.17 477.30,526.69 477.70,526.48 478.10,525.86 478.50,525.30 478.90,525.10 479.30,524.41 479.70,523.90 480.10,523.63 480.50,522.54 480.90,521.93 481.30,521.62 481.70,520.73 482.10,521.10 482.50,520.55 482.90,520.49 483.30,521.22 483.70,521.50 484.10,521.36 484.50,521.73 484.90,521.15 485.30,521.77 485.70,521.38 486.10,521.11 486.50,521.26 486.90,521.45 487.30,521.81 487.70,522.52 488.10,522.63 488.50,523.37 488.90,523.73 489.30,523.54 489.70,523.95 490.10,524.05 490.50,524.00 490.90,524.25 491.30,523.88 491.70,523.92 492.10,523.97 492.50,524.04 492.90,524.06 493.30,524.22 493.70,524.00 494.10,523.94 494.50,523.49 494.90,523.64 495.30,523.59 495.70,523.92 496.10,523.96 496.50,524.06 496.90,524.06 497.30,524.28 497.70,524.12 498.10,524.13 498.50,523.83 498.90,523.34 499.30,523.03 499.70,523.11 500.10,522.88 500.50,522.60 500.90,522.27 501.30,521.72 501.70,521.45 502.10,521.03 502.50,519.95 502.90,519.48 503.30,518.71 503.70,517.79 504.10,517.09 504.50,516.75 504.90,516.41 505.30,516.37 505.70,515.50 506.10,515.14 506.50,514.23 506.90,513.53 507.30,512.45 507.70,511.31 508.10,510.37 508.50,509.30 508.90,507.82 509.30,506.32 509.70,504.30 510.10,502.30 510.50,500.23 510.90,497.20 511.30,494.63 511.70,491.73 512.10,488.75 512.50,485.55 512.90,481.72 513.30,477.67 513.70,474.27 514.10,469.81 514.50,464.69 514.90,459.03 515.30,452.80 515.70,446.49 516.10,440.40 516.50,434.21 516.90,428.63 517.30,423.28 517.70,417.56 518.10,411.97 518.50,406.37 518.90,400.26 519.30,394.48 519.70,388.69 520.10,383.23 520.50,378.24 520.90,373.56 521.30,369.15 521.70,365.39 522.10,361.85 522.50,359.20 522.90,356.54 523.30,354.18 523.70,352.67 524.10,351.90 524.50,352.04 524.90,352.45 525.30,353.42 525.70,355.17 526.10,357.44 526.50,359.85 526.90,362.60 527.30,365.74 527.70,369.43 528.10,372.96 528.50,377.24 528.90,381.69 529.30,386.41 529.70,390.81 530.10,395.08 530.50,399.70 530.90,404.03 531.30,408.38 531.70,412.94 532.10,417.32 532.50,421.86 532.90,426.59 533.30,430.21 533.70,434.93 534.10,439.97 534.50,444.85 534.90,449.77 535.30,454.71 535.70,459.36 536.10,463.97 536.50,467.95 536.90,471.32 537.30,474.92 537.70,478.19 538.10,481.20 538.50,483.66 538.90,486.58 539.30,489.07 539.70,491.46 540.10,493.63 540.50,495.72 540.90,497.38 541.30,499.57 541.70,501.24 542.10,502.72 542.50,504.51 542.90,505.83 543.30,507.31 543.70,508.80 544.10,509.78 544.50,510.96 544.90,512.13 545.30,512.94 545.70,514.37 546.10,514.79 546.50,515.65 546.90,516.44 547.30,516.91 547.70,517.40 548.10,518.35 548.50,518.48 548.90,519.72 549.30,520.25 549.70,520.59 550.10,521.20 550.50,521.85 550.90,521.95 551.30,522.33 551.70,522.21 552.10,522.36 552.50,522.78 552.90,523.04 553.30,522.98 553.70,522.91 554.10,523.18 554.50,523.36 554.90,523.60 555.30,523.53 555.70,523.66 556.10,524.20 556.50,524.72 556.90,524.87 557.30,525.54 557.70,525.79 558.10,526.69 558.50,527.08 558.90,527.24 559.30,527.12 559.70,526.74 560.10,526.44 560.50,526.56 560.90,526.41 561.30,526.06 561.70,526.37 562.10,526.47 562.50,527.13 562.90,526.77 563.30,526.81 563.70,526.46 564.10,526.86 564.50,526.59 564.90,526.48 565.30,526.56 565.70,527.15 566.10,527.27 566.50,527.55 566.90,527.66 567.30,527.68 567.70,527.68 568.10,527.32 568.50,527.48 568.90,527.53 569.30,527.42 569.70,527.19 570.10,527.23 570.50,527.50 570.90,527.71 571.30,527.39 571.70,527.66 572.10,527.71 572.50,527.70 572.90,527.49 573.30,527.37 573.70,527.56 574.10,527.82 574.50,527.40 574.90,527.36 575.30,527.40 575.70,527.41 576.10,527.73 576.50,527.64 576.90,527.89 577.30,527.76 577.70,527.68 578.10,527.84 578.50,527.94 578.90,527.42 579.30,527.14 579.70,526.68 580.10,526.81 580.50,526.76 580.90,526.73 581.30,526.89 581.70,527.13 582.10,527.25 582.50,527.14 582.90,527.13 583.30,527.26 583.70,527.05 584.10,526.90 584.50,526.74 584.90,526.44 585.30,526.26 585.70,526.24 586.10,526.10 586.50,526.30 586.90,526.17 587.30,526.31 587.70,526.71 588.10,526.98 588.50,526.67 588.90,526.48 589.30,526.14 589.70,525.86 590.10,525.69 590.50,525.51 590.90,525.11 591.30,525.39 591.70,525.19 592.10,524.95 592.50,524.89 592.90,524.50 593.30,524.21 593.70,524.11 594.10,523.88 594.50,523.87 594.90,523.85 595.30,523.71 595.70,523.45 596.10,523.23 596.50,522.94 596.90,522.66 597.30,522.39 597.70,522.40 598.10,522.36 598.50,522.51 598.90,522.30 599.30,522.21 599.70,521.86 600.10,521.72 600.50,521.00 600.90,520.62 601.30,520.56 601.70,520.12 602.10,519.64 602.50,519.01 602.90,518.21 603.30,518.17 603.70,517.76 604.10,517.05 604.50,517.08 604.90,517.27 605.30,516.96 605.70,517.11 606.10,516.73 606.50,516.51 606.90,516.21 607.30,515.52 607.70,515.01 608.10,514.98 608.50,514.71 608.90,514.95 609.30,515.58 609.70,516.27 610.10,516.87 610.50,517.16 610.90,517.34 611.30,517.41 611.70,517.14 612.10,516.98 612.50,516.77 612.90,516.77 613.30,516.54 613.70,516.11 614.10,516.13 614.50,516.39 614.90,516.46 615.30,516.47 615.70,516.65 616.10,516.46 616.50,516.58 616.90,516.35 617.30,516.20 617.70,516.29 618.10,516.54 618.50,516.18 618.90,515.88 619.30,515.77 619.70,515.63 620.10,515.48 620.50,514.91 620.90,514.63 621.30,514.61 621.70,514.70 622.10,514.79 622.50,514.69 622.90,514.37 623.30,514.48 623.70,514.56 624.10,514.53 624.50,514.35 624.90,514.33 625.30,514.23 625.70,514.42 626.10,514.22 626.50,513.50 626.90,512.98 627.30,512.45 627.70,511.62 628.10,510.95 628.50,510.22 628.90,509.56 629.30,509.00 629.70,508.09 630.10,507.68 630.50,506.90 630.90,506.06 631.30,505.16 631.70,504.23 632.10,502.98 632.50,501.29 632.90,499.32 633.30,497.69 633.70,495.79 634.10,493.61 634.50,490.67 634.90,488.04 635.30,485.31 635.70,482.40 636.10,478.55 636.50,474.65 636.90,470.01 637.30,465.71 637.70,461.09 638.10,456.59 638.50,451.63 638.90,447.41 639.30,443.29 639.70,439.32 640.10,435.19 640.50,431.14 640.90,426.90 641.30,423.17 641.70,419.24 642.10,415.66 642.50,412.42 642.90,409.37 643.30,406.56 643.70,403.93 644.10,401.55 644.50,399.76 644.90,398.20 645.30,397.23 645.70,397.21 646.10,396.82 646.50,396.73 646.90,396.63 647.30,396.59 647.70,396.93 648.10,397.60 648.50,398.47 648.90,399.54 649.30,401.34 649.70,403.52 650.10,406.28 650.50,409.33 650.90,412.44 651.30,415.75 651.70,419.50 652.10,423.02 652.50,426.47 652.90,429.74 653.30,432.82 653.70,436.07 654.10,438.96 654.50,442.29 654.90,445.77 655.30,449.07 655.70,452.26 656.10,455.34 656.50,458.31 656.90,461.17 657.30,463.82 657.70,466.90 658.10,470.51 658.50,473.83 658.90,477.74 659.30,480.91 659.70,483.81 660.10,486.51 660.50,488.58 660.90,490.29 661.30,492.71 661.70,493.82 662.10,495.25 662.50,496.77 662.90,497.66 663.30,498.83 663.70,500.16 664.10,501.30 664.50,502.38 664.90,503.38 665.30,504.28 665.70,505.33 666.10,505.93 666.50,506.65 666.90,506.92 667.30,507.77 667.70,508.56 668.10,509.19 668.50,509.80 668.90,510.61 669.30,510.90 669.70,511.40 670.10,511.86 670.50,512.05 670.90,512.29 671.30,512.43 671.70,512.97 672.10,513.83 672.50,514.07 672.90,514.37 673.30,514.65 673.70,515.09 674.10,515.55 674.50,515.52 674.90,515.33 675.30,515.62 675.70,515.56 676.10,515.87 676.50,515.68 676.90,515.85 677.30,516.01 677.70,516.37 678.10,516.46 678.50,516.90 678.90,516.68 679.30,516.94 679.70,516.80 680.10,516.79 680.50,516.57 680.90,516.68 681.30,516.11 681.70,516.29 682.10,515.91 682.50,516.17 682.90,515.88 683.30,515.87 683.70,515.65 684.10,516.52 684.50,516.45 684.90,516.87 685.30,516.63 685.70,516.71 686.10,516.87 686.50,517.32 686.90,517.05 687.30,517.47 687.70,517.43 688.10,517.55 688.50,517.83 688.90,517.98 689.30,518.22 689.70,518.34 690.10,518.24 690.50,518.22 690.90,518.11 691.30,518.46 691.70,518.23 692.10,517.77 692.50,517.71 692.90,517.63 693.30,518.10 693.70,517.84 694.10,517.67 694.50,518.01 694.90,517.99 695.30,517.91 695.70,518.08 696.10,518.03 696.50,518.25 696.90,517.83 697.30,517.76 697.70,518.07 698.10,517.96 698.50,517.34 698.90,517.15 699.30,517.12 699.70,517.47 700.10,517.21 700.50,516.81 700.90,516.72 701.30,517.30 701.70,517.24 702.10,516.85 702.50,516.45 702.90,516.71 703.30,516.67 703.70,516.47 704.10,516.17 704.50,515.87 704.90,516.18 705.30,516.21 705.70,515.81 706.10,515.75 706.50,516.00 706.90,515.81 707.30,515.73 707.70,515.67 708.10,515.92 708.50,515.98 708.90,515.98 709.30,515.96 709.70,516.11 710.10,516.28 710.50,516.33 710.90,516.35 711.30,516.45 711.70,516.40 712.10,516.17 712.50,516.19 712.90,516.02 713.30,515.85 713.70,515.21 714.10,514.59 714.50,514.59 714.90,514.72 715.30,514.64 715.70,514.25 716.10,514.37' fill='none' stroke='#0000ff' stroke-width='1.8' stroke-linejoin='round'/>
<text transform='translate(129.55 287.41) scale(1.0235 1)' font-family='Liberation Serif' font-weight='bold' font-size='25.34' fill='#000'>B.E. (eV)</text>
<text transform='translate(519.75 281.09) scale(1.0120 1)' font-family='Liberation Serif' font-weight='bold' font-size='25.45' fill='#000'>B.E. (eV)</text>
<text transform='translate(126.85 596.81) scale(1.0194 1)' font-family='Liberation Serif' font-weight='bold' font-size='25.34' fill='#000'>B.E. (eV)</text>
<text transform='translate(520.25 596.81) scale(1.0164 1)' font-family='Liberation Serif' font-weight='bold' font-size='25.34' fill='#000'>B.E. (eV)</text>
<text transform='translate(17.98 207.84) rotate(-90) scale(1.0590 1)' font-family='Liberation Serif' font-weight='bold' font-size='24.57' fill='#000'>Counts (a.u.)</text>
<text transform='translate(407.53 206.34) rotate(-90) scale(1.0489 1)' font-family='Liberation Serif' font-weight='bold' font-size='24.79' fill='#000'>Counts (a.u.)</text>
<text transform='translate(17.98 518.14) rotate(-90) scale(1.0613 1)' font-family='Liberation Serif' font-weight='bold' font-size='24.57' fill='#000'>Counts (a.u.)</text>
<text transform='translate(407.51 518.14) rotate(-90) scale(1.0472 1)' font-family='Liberation Serif' font-weight='bold' font-size='24.90' fill='#000'>Counts (a.u.)</text>
<text transform='translate(46.06 36.29) scale(1.0513 1)' font-family='Liberation Serif' font-weight='bold' font-size='25.45' fill='#000'>(a)</text>
<text transform='translate(431.07 29.81) scale(1.0475 1)' font-family='Liberation Serif' font-weight='bold' font-size='25.34' fill='#000'>(b)</text>
<text transform='translate(40.88 341.45) scale(1.0866 1)' font-family='Liberation Serif' font-weight='bold' font-size='24.24' fill='#000'>(c)</text>
<text transform='translate(430.87 341.54) scale(1.0521 1)' font-family='Liberation Serif' font-weight='bold' font-size='25.23' fill='#000'>(d)</text>
<rect x='634.9' y='9.1' width='73.6' height='23' fill='#fff' stroke='#8c8c8c' stroke-width='1'/>
<line x1='639.1' y1='23.7' x2='667.9' y2='23.7' stroke='#000' stroke-width='2.2'/>
<text transform='translate(669.37 27.40) scale(0.9859 1)' font-family='Liberation Serif' font-weight='bold' font-size='19.78' fill='#000'>C 1s</text>
<rect x='230.9' y='319.5' width='86.6' height='23.2' fill='#fff' stroke='#8c8c8c' stroke-width='1'/>
<line x1='235.1' y1='333.9' x2='263.1' y2='333.9' stroke='#ff0000' stroke-width='1.8'/>
<text transform='translate(265.14 338.10) scale(1.0419 1)' font-family='Liberation Serif' font-weight='bold' font-size='19.31' fill='#000'>Zn 2p</text>
<rect x='623.3' y='319.5' width='86.1' height='23.2' fill='#fff' stroke='#8c8c8c' stroke-width='1'/>
<line x1='628.1' y1='334.2' x2='656.1' y2='334.2' stroke='#0000ff' stroke-width='1.8'/>
<text transform='translate(658.79 338.41) scale(1.0809 1)' font-family='Liberation Serif' font-weight='bold' font-size='18.87' fill='#000'>Te 3d</text>
<text transform='translate(48.06 178.40) rotate(-90) scale(0.9305 1)' font-family='Liberation Serif' font-weight='bold' font-size='13.68' fill='#000'>Ca-3s</text>
<text transform='translate(106.76 185.51) rotate(-90) scale(0.9063 1)' font-family='Liberation Serif' font-weight='bold' font-size='14.20' fill='#000'>C-1s</text>
<text transform='translate(165.76 150.21) rotate(-90) scale(0.8987 1)' font-family='Liberation Serif' font-weight='bold' font-size='14.20' fill='#000'>O-1s</text>
<text transform='translate(172.77 57.20) rotate(-90) scale(1.0620 1)' font-family='Liberation Serif' font-weight='bold' font-size='12.77' fill='#000'>Te-3d</text>
<text transform='translate(178.03 24.49) rotate(-90) scale(1.0297 1)' font-family='Liberation Serif' font-weight='bold' font-size='6.99' fill='#000'>5/2</text>
<text transform='translate(190.77 80.51) rotate(-90) scale(1.0784 1)' font-family='Liberation Serif' font-weight='bold' font-size='12.77' fill='#000'>Te-3d</text>
<text transform='translate(195.63 48.17) rotate(-90) scale(1.0062 1)' font-family='Liberation Serif' font-weight='bold' font-size='7.14' fill='#000'>3/2</text>
<text transform='translate(235.87 162.00) rotate(-90) scale(1.1373 1)' font-family='Liberation Serif' font-weight='bold' font-size='11.89' fill='#000'>Te-3p</text>
<text transform='translate(240.94 129.80) rotate(-90) scale(1.3680 1)' font-family='Liberation Serif' font-weight='bold' font-size='5.80' fill='#000'>3/2</text>
<text transform='translate(251.97 169.60) rotate(-90) scale(1.1865 1)' font-family='Liberation Serif' font-weight='bold' font-size='11.43' fill='#000'>Te-3p</text>
<text transform='translate(257.34 137.33) rotate(-90) scale(1.3586 1)' font-family='Liberation Serif' font-weight='bold' font-size='5.80' fill='#000'>1/2</text>
<text transform='translate(281.42 121.84) rotate(-90) scale(1.1529 1)' font-family='Liberation Serif' font-weight='bold' font-size='11.66' fill='#000'>Zn-2p</text>
<text transform='translate(287.14 87.58) rotate(-90) scale(1.1767 1)' font-family='Liberation Serif' font-weight='bold' font-size='6.25' fill='#000'>3/2</text>
<text transform='translate(296.30 139.84) rotate(-90) scale(1.0990 1)' font-family='Liberation Serif' font-weight='bold' font-size='12.23' fill='#000'>Zn-2p</text>
<text transform='translate(301.14 105.52) rotate(-90) scale(1.2338 1)' font-family='Liberation Serif' font-weight='bold' font-size='6.25' fill='#000'>1/2</text>
<text transform='translate(490.56 27.26) scale(0.9893 1)' font-family='Liberation Serif' font-weight='bold' font-size='13.53' fill='#000'>C=C</text>
<text transform='translate(497.35 94.67) scale(0.9689 1)' font-family='Liberation Serif' font-weight='bold' font-size='13.38' fill='#000'>C-O</text>
<text transform='translate(526.59 162.48) scale(1.1088 1)' font-family='Liberation Serif' font-weight='bold' font-size='11.60' fill='#000'>C=O</text>
<text transform='translate(558.27 144.47) scale(0.9989 1)' font-family='Liberation Serif' font-weight='bold' font-size='12.94' fill='#000'>HO-C=O</text>
<line x1='495.8' y1='34.9' x2='489.774' y2='43.9397' stroke='#000' stroke-width='1.1'/><polygon points='487,48.1 488.331,41.7764 492.325,44.439' fill='#000'/>
<line x1='509' y1='97' x2='504.538' y2='103.816' stroke='#000' stroke-width='1.1'/><polygon points='501.8,108 503.078,101.665 507.094,104.294' fill='#000'/>
<line x1='539.6' y1='167.9' x2='535.018' y2='179.642' stroke='#000' stroke-width='1.1'/><polygon points='533.2,184.3 533.145,177.838 537.617,179.583' fill='#000'/>
<line x1='577.4' y1='151.5' x2='573.122' y2='160.121' stroke='#000' stroke-width='1.1'/><polygon points='570.9,164.6 571.417,158.159 575.717,160.292' fill='#000'/>
<text transform='translate(71.65 347.37) scale(1.0912 1)' font-family='Liberation Serif' font-weight='normal' font-size='11.89' fill='#000'>2p</text>
<text transform='translate(85.68 351.48) scale(1.0749 1)' font-family='Liberation Serif' font-weight='normal' font-size='12.19' fill='#000'>3/2</text>
<text transform='translate(245.04 427.76) scale(0.9863 1)' font-family='Liberation Serif' font-weight='normal' font-size='13.37' fill='#000'>2p</text>
<text transform='translate(259.08 432.58) scale(1.0312 1)' font-family='Liberation Serif' font-weight='bold' font-size='12.34' fill='#000'>1/2</text>
<text transform='translate(514.68 339.87) scale(1.1312 1)' font-family='Liberation Serif' font-weight='bold' font-size='12.93' fill='#000'>Te</text>
<text transform='translate(529.39 333.80) scale(0.8895 1)' font-family='Liberation Serif' font-weight='bold' font-size='8.30' fill='#000'>2+</text>
<text transform='translate(638.18 383.77) scale(1.1154 1)' font-family='Liberation Serif' font-weight='bold' font-size='12.93' fill='#000'>Te</text>
<text transform='translate(653.13 376.93) scale(0.9744 1)' font-family='Liberation Serif' font-weight='bold' font-size='7.43' fill='#000'>3+</text>
<text transform='translate(456.00 493.98) scale(1.0835 1)' font-family='Liberation Serif' font-weight='bold' font-size='12.20' fill='#000'>Te 3d</text>
<text transform='translate(486.87 499.07) scale(1.0339 1)' font-family='Liberation Serif' font-weight='bold' font-size='12.79' fill='#000'>5/2</text>
<text transform='translate(575.71 489.67) scale(0.9895 1)' font-family='Liberation Serif' font-weight='bold' font-size='13.05' fill='#000'>Te 3d</text>
<text transform='translate(606.02 494.28) scale(1.0608 1)' font-family='Liberation Serif' font-weight='bold' font-size='12.04' fill='#000'>3/2</text></svg>
</body></html>
